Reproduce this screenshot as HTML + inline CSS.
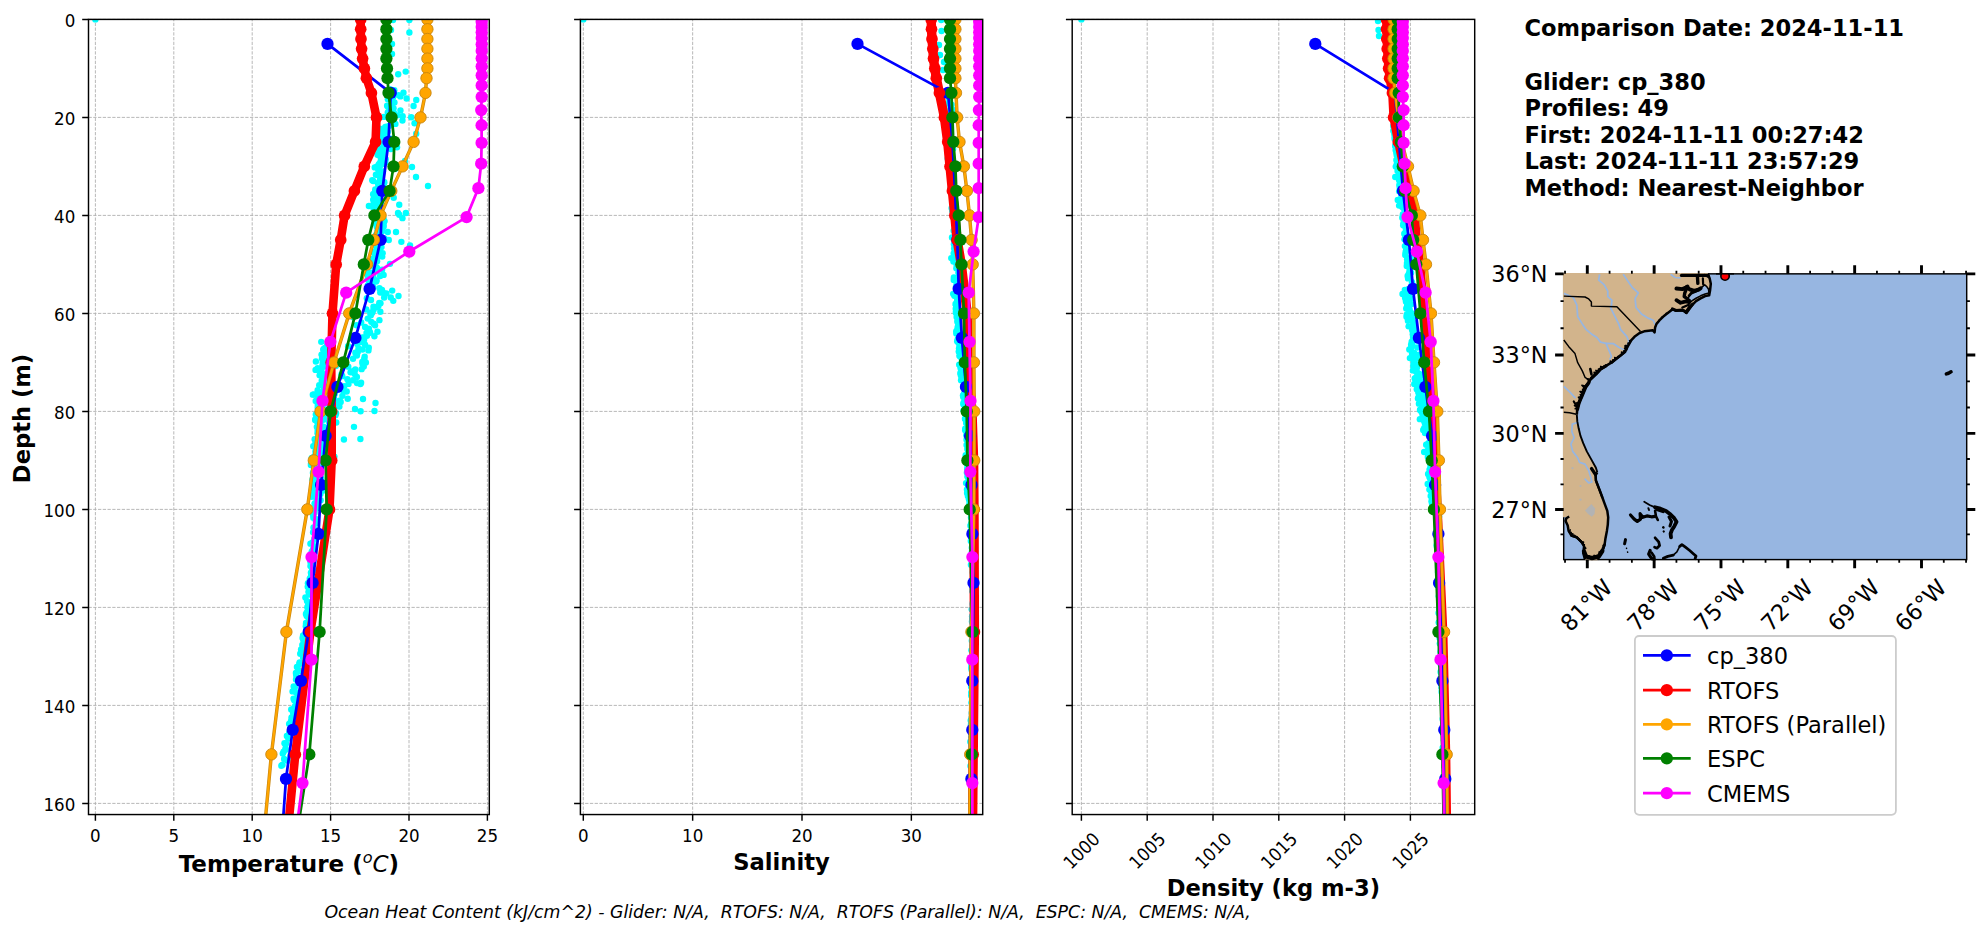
<!DOCTYPE html>
<html lang="en"><head><meta charset="utf-8"><title>Glider / model comparison cp_380 2024-11-11</title>
<style>html,body{margin:0;padding:0;background:#fff}svg{display:block}text{font-family:'DejaVu Sans','Liberation Sans',sans-serif;fill:#000}</style></head><body>
<svg width="1978" height="934" viewBox="0 0 1978 934">
<rect width="1978" height="934" fill="#fff"/>
<clipPath id="c1"><rect x="88.5" y="19.4" width="400.8" height="795.15"/></clipPath>
<path d="M95.4 814.55V19.4M173.8 814.55V19.4M252.2 814.55V19.4M330.6 814.55V19.4M409 814.55V19.4M487.4 814.55V19.4M88.5 19.4H489.3M88.5 117.4H489.3M88.5 215.4H489.3M88.5 313.4H489.3M88.5 411.4H489.3M88.5 509.4H489.3M88.5 607.4H489.3M88.5 705.4H489.3M88.5 803.4H489.3" stroke="#b0b0b0" stroke-width="0.9" stroke-dasharray="3.3 1.45" fill="none"/>
<g clip-path="url(#c1)">
<g fill="#00ffff"><circle cx="95.4" cy="19.4" r="3.2"/><circle cx="409.4" cy="20" r="3.2"/><circle cx="409.4" cy="32.5" r="3.2"/><circle cx="393" cy="20" r="3.2"/><circle cx="392" cy="44" r="3.2"/><circle cx="392" cy="54" r="3.2"/><circle cx="391" cy="30" r="3.2"/><circle cx="398.2" cy="74.3" r="3.2"/><circle cx="405.7" cy="71.6" r="3.2"/><circle cx="390.42" cy="89.42" r="3.2"/><circle cx="394.26" cy="90.13" r="3.2"/><circle cx="403.49" cy="92.74" r="3.2"/><circle cx="393.67" cy="93.68" r="3.2"/><circle cx="400.35" cy="96.42" r="3.2"/><circle cx="398.52" cy="95.1" r="3.2"/><circle cx="393.01" cy="97.3" r="3.2"/><circle cx="406.63" cy="98.56" r="3.2"/><circle cx="416.27" cy="99.94" r="3.2"/><circle cx="387.87" cy="99.2" r="3.2"/><circle cx="394.42" cy="102.53" r="3.2"/><circle cx="392.5" cy="102.91" r="3.2"/><circle cx="387.11" cy="105.63" r="3.2"/><circle cx="413.58" cy="106.05" r="3.2"/><circle cx="388.29" cy="107.09" r="3.2"/><circle cx="393.53" cy="108.22" r="3.2"/><circle cx="400.44" cy="110.45" r="3.2"/><circle cx="391.03" cy="110.23" r="3.2"/><circle cx="393.9" cy="112.73" r="3.2"/><circle cx="387.76" cy="112.39" r="3.2"/><circle cx="397.15" cy="115.34" r="3.2"/><circle cx="402.64" cy="116.13" r="3.2"/><circle cx="383.72" cy="116.88" r="3.2"/><circle cx="411.24" cy="117.31" r="3.2"/><circle cx="402.44" cy="120.49" r="3.2"/><circle cx="393.08" cy="120.74" r="3.2"/><circle cx="414.56" cy="123.22" r="3.2"/><circle cx="392.36" cy="123.17" r="3.2"/><circle cx="389.35" cy="125.67" r="3.2"/><circle cx="395.37" cy="123.91" r="3.2"/><circle cx="385.13" cy="127.16" r="3.2"/><circle cx="386.11" cy="126.63" r="3.2"/><circle cx="387.29" cy="127.36" r="3.2"/><circle cx="384.13" cy="130.11" r="3.2"/><circle cx="379.91" cy="128.58" r="3.2"/><circle cx="383.65" cy="130.32" r="3.2"/><circle cx="387.72" cy="131.86" r="3.2"/><circle cx="380.14" cy="132.42" r="3.2"/><circle cx="384.98" cy="131.29" r="3.2"/><circle cx="384.26" cy="133.48" r="3.2"/><circle cx="385.55" cy="134.22" r="3.2"/><circle cx="416.21" cy="133.71" r="3.2"/><circle cx="380.78" cy="136.63" r="3.2"/><circle cx="382.71" cy="138.18" r="3.2"/><circle cx="384.88" cy="136.96" r="3.2"/><circle cx="384.81" cy="138.89" r="3.2"/><circle cx="384.33" cy="138.64" r="3.2"/><circle cx="390.9" cy="138.6" r="3.2"/><circle cx="384.57" cy="140.76" r="3.2"/><circle cx="375.32" cy="142.37" r="3.2"/><circle cx="382.04" cy="141.58" r="3.2"/><circle cx="385.76" cy="145.02" r="3.2"/><circle cx="387.66" cy="143.69" r="3.2"/><circle cx="386.47" cy="145.08" r="3.2"/><circle cx="374.83" cy="147.38" r="3.2"/><circle cx="383.41" cy="145.67" r="3.2"/><circle cx="397.01" cy="147.26" r="3.2"/><circle cx="384.85" cy="149.12" r="3.2"/><circle cx="390.81" cy="148.93" r="3.2"/><circle cx="379.13" cy="148.59" r="3.2"/><circle cx="382.93" cy="152.66" r="3.2"/><circle cx="384.18" cy="151.65" r="3.2"/><circle cx="379.18" cy="152.09" r="3.2"/><circle cx="377.54" cy="154.83" r="3.2"/><circle cx="381.95" cy="154.84" r="3.2"/><circle cx="378.53" cy="154.87" r="3.2"/><circle cx="384.6" cy="157.67" r="3.2"/><circle cx="381.11" cy="155.81" r="3.2"/><circle cx="382.84" cy="157.34" r="3.2"/><circle cx="382.56" cy="159.83" r="3.2"/><circle cx="385.69" cy="159.17" r="3.2"/><circle cx="380.79" cy="157.88" r="3.2"/><circle cx="385.29" cy="162.54" r="3.2"/><circle cx="380.23" cy="162.39" r="3.2"/><circle cx="381.97" cy="161" r="3.2"/><circle cx="378.88" cy="164.16" r="3.2"/><circle cx="380.53" cy="164.93" r="3.2"/><circle cx="383.83" cy="163.85" r="3.2"/><circle cx="374.77" cy="167.4" r="3.2"/><circle cx="377.15" cy="166.48" r="3.2"/><circle cx="379.82" cy="165.64" r="3.2"/><circle cx="395.2" cy="168.79" r="3.2"/><circle cx="378.33" cy="168.99" r="3.2"/><circle cx="378.42" cy="169.53" r="3.2"/><circle cx="383" cy="171.44" r="3.2"/><circle cx="379.8" cy="171.32" r="3.2"/><circle cx="382.2" cy="171.92" r="3.2"/><circle cx="382.24" cy="173.76" r="3.2"/><circle cx="377.77" cy="174.21" r="3.2"/><circle cx="375.93" cy="174.81" r="3.2"/><circle cx="380.25" cy="177.1" r="3.2"/><circle cx="381.33" cy="177.26" r="3.2"/><circle cx="378.33" cy="175.33" r="3.2"/><circle cx="381.19" cy="178.03" r="3.2"/><circle cx="381.09" cy="179.06" r="3.2"/><circle cx="380.2" cy="179.17" r="3.2"/><circle cx="372.29" cy="180.24" r="3.2"/><circle cx="384.36" cy="182.19" r="3.2"/><circle cx="373.27" cy="181.07" r="3.2"/><circle cx="383.89" cy="183.39" r="3.2"/><circle cx="377.87" cy="183.16" r="3.2"/><circle cx="379.11" cy="182.4" r="3.2"/><circle cx="380.4" cy="185.86" r="3.2"/><circle cx="380.6" cy="186.03" r="3.2"/><circle cx="378.23" cy="187.16" r="3.2"/><circle cx="379.52" cy="187.89" r="3.2"/><circle cx="391.78" cy="187.56" r="3.2"/><circle cx="375.27" cy="189.44" r="3.2"/><circle cx="378.27" cy="191.91" r="3.2"/><circle cx="375.19" cy="191.38" r="3.2"/><circle cx="378.17" cy="190.72" r="3.2"/><circle cx="377.77" cy="194.4" r="3.2"/><circle cx="373.63" cy="194.2" r="3.2"/><circle cx="373.18" cy="194.22" r="3.2"/><circle cx="374.51" cy="196.82" r="3.2"/><circle cx="377.91" cy="194.91" r="3.2"/><circle cx="374.95" cy="194.99" r="3.2"/><circle cx="393.72" cy="197.78" r="3.2"/><circle cx="379.52" cy="197.75" r="3.2"/><circle cx="375.17" cy="197.09" r="3.2"/><circle cx="376.96" cy="199.54" r="3.2"/><circle cx="376.56" cy="200.64" r="3.2"/><circle cx="373.18" cy="199.76" r="3.2"/><circle cx="378.21" cy="203.95" r="3.2"/><circle cx="373.98" cy="203.17" r="3.2"/><circle cx="373.62" cy="203.95" r="3.2"/><circle cx="368.9" cy="205.93" r="3.2"/><circle cx="399.25" cy="204.71" r="3.2"/><circle cx="381.24" cy="204.79" r="3.2"/><circle cx="378.82" cy="208.87" r="3.2"/><circle cx="379.78" cy="207.43" r="3.2"/><circle cx="373.46" cy="207.95" r="3.2"/><circle cx="378.41" cy="211.61" r="3.2"/><circle cx="379.34" cy="210.61" r="3.2"/><circle cx="376.89" cy="210.16" r="3.2"/><circle cx="405.9" cy="212.96" r="3.2"/><circle cx="378.84" cy="212.96" r="3.2"/><circle cx="378.88" cy="212.71" r="3.2"/><circle cx="399.26" cy="214.76" r="3.2"/><circle cx="381.87" cy="215.47" r="3.2"/><circle cx="381.47" cy="216.31" r="3.2"/><circle cx="376.24" cy="217.43" r="3.2"/><circle cx="383.35" cy="218.19" r="3.2"/><circle cx="402.45" cy="218.16" r="3.2"/><circle cx="374.93" cy="221.05" r="3.2"/><circle cx="384.01" cy="221.1" r="3.2"/><circle cx="384.55" cy="221.08" r="3.2"/><circle cx="374.81" cy="223.21" r="3.2"/><circle cx="377.47" cy="221.62" r="3.2"/><circle cx="383.41" cy="223.56" r="3.2"/><circle cx="383.57" cy="225.51" r="3.2"/><circle cx="377.4" cy="224.01" r="3.2"/><circle cx="377.34" cy="225.8" r="3.2"/><circle cx="376.69" cy="226.61" r="3.2"/><circle cx="380.94" cy="227.06" r="3.2"/><circle cx="383.48" cy="226.94" r="3.2"/><circle cx="382.18" cy="231.24" r="3.2"/><circle cx="377.51" cy="230.54" r="3.2"/><circle cx="381.07" cy="230.38" r="3.2"/><circle cx="379.98" cy="231.96" r="3.2"/><circle cx="379.76" cy="232.08" r="3.2"/><circle cx="387.77" cy="232" r="3.2"/><circle cx="378.24" cy="234.5" r="3.2"/><circle cx="376.03" cy="234.92" r="3.2"/><circle cx="379.05" cy="234.28" r="3.2"/><circle cx="381.05" cy="238.5" r="3.2"/><circle cx="384.54" cy="238.57" r="3.2"/><circle cx="381.11" cy="236.89" r="3.2"/><circle cx="382.71" cy="240.1" r="3.2"/><circle cx="388.78" cy="239.96" r="3.2"/><circle cx="382.39" cy="239.92" r="3.2"/><circle cx="379.5" cy="242.84" r="3.2"/><circle cx="380.92" cy="241.21" r="3.2"/><circle cx="401.36" cy="241.87" r="3.2"/><circle cx="379.7" cy="244.43" r="3.2"/><circle cx="410.04" cy="245.4" r="3.2"/><circle cx="380.44" cy="245.31" r="3.2"/><circle cx="377.45" cy="246.75" r="3.2"/><circle cx="376.52" cy="247.46" r="3.2"/><circle cx="381.47" cy="247.08" r="3.2"/><circle cx="378.23" cy="250.5" r="3.2"/><circle cx="379.49" cy="250.75" r="3.2"/><circle cx="378.41" cy="248.96" r="3.2"/><circle cx="380.6" cy="253.24" r="3.2"/><circle cx="382.63" cy="253.14" r="3.2"/><circle cx="373.6" cy="252.27" r="3.2"/><circle cx="377.09" cy="254.48" r="3.2"/><circle cx="376.21" cy="254.95" r="3.2"/><circle cx="377.05" cy="253.71" r="3.2"/><circle cx="377.83" cy="256.67" r="3.2"/><circle cx="375.05" cy="256.47" r="3.2"/><circle cx="382.23" cy="256.57" r="3.2"/><circle cx="372.92" cy="258.69" r="3.2"/><circle cx="374.96" cy="260.47" r="3.2"/><circle cx="373.73" cy="260.69" r="3.2"/><circle cx="375.7" cy="261.09" r="3.2"/><circle cx="376.19" cy="260.97" r="3.2"/><circle cx="377.08" cy="261.37" r="3.2"/><circle cx="368.48" cy="264.19" r="3.2"/><circle cx="372" cy="264.46" r="3.2"/><circle cx="389.99" cy="263.87" r="3.2"/><circle cx="376.33" cy="267.16" r="3.2"/><circle cx="374.18" cy="266.17" r="3.2"/><circle cx="374.2" cy="266.72" r="3.2"/><circle cx="376.62" cy="270.14" r="3.2"/><circle cx="382.11" cy="269.8" r="3.2"/><circle cx="377.14" cy="268.1" r="3.2"/><circle cx="371.03" cy="272.77" r="3.2"/><circle cx="376.6" cy="271.15" r="3.2"/><circle cx="367.33" cy="270.92" r="3.2"/><circle cx="367.65" cy="274.73" r="3.2"/><circle cx="372.16" cy="274.84" r="3.2"/><circle cx="383.6" cy="274.88" r="3.2"/><circle cx="373.21" cy="276.18" r="3.2"/><circle cx="380.17" cy="276.05" r="3.2"/><circle cx="368.8" cy="275.62" r="3.2"/><circle cx="367.71" cy="279.3" r="3.2"/><circle cx="369.9" cy="277.93" r="3.2"/><circle cx="373.41" cy="279.01" r="3.2"/><circle cx="376.12" cy="281.49" r="3.2"/><circle cx="369.97" cy="280.94" r="3.2"/><circle cx="376.55" cy="280.4" r="3.2"/><circle cx="369.36" cy="284.42" r="3.2"/><circle cx="368.33" cy="285.02" r="3.2"/><circle cx="372" cy="282.88" r="3.2"/><circle cx="368.23" cy="285.73" r="3.2"/><circle cx="373.26" cy="287.02" r="3.2"/><circle cx="367.78" cy="286" r="3.2"/><circle cx="379.43" cy="288.25" r="3.2"/><circle cx="382.01" cy="289.98" r="3.2"/><circle cx="392.2" cy="290.6" r="3.2"/><circle cx="380.28" cy="292.43" r="3.2"/><circle cx="386.37" cy="293.54" r="3.2"/><circle cx="383.17" cy="292.72" r="3.2"/><circle cx="398.51" cy="295.99" r="3.2"/><circle cx="390.78" cy="297.44" r="3.2"/><circle cx="366.85" cy="298.29" r="3.2"/><circle cx="384.15" cy="297.58" r="3.2"/><circle cx="393.28" cy="300.86" r="3.2"/><circle cx="371.01" cy="299.96" r="3.2"/><circle cx="380.45" cy="303.24" r="3.2"/><circle cx="379.29" cy="302.9" r="3.2"/><circle cx="373.5" cy="306.82" r="3.2"/><circle cx="378.35" cy="305.99" r="3.2"/><circle cx="366.26" cy="309.51" r="3.2"/><circle cx="376.59" cy="307.37" r="3.2"/><circle cx="380.34" cy="311.7" r="3.2"/><circle cx="373.45" cy="309.9" r="3.2"/><circle cx="370.21" cy="312.82" r="3.2"/><circle cx="372.21" cy="312.85" r="3.2"/><circle cx="354.68" cy="316.13" r="3.2"/><circle cx="370.82" cy="315.31" r="3.2"/><circle cx="367.71" cy="318.62" r="3.2"/><circle cx="353.27" cy="317.16" r="3.2"/><circle cx="371.29" cy="321.84" r="3.2"/><circle cx="379.41" cy="320.15" r="3.2"/><circle cx="361.22" cy="322.44" r="3.2"/><circle cx="373.64" cy="323.77" r="3.2"/><circle cx="375.03" cy="325.24" r="3.2"/><circle cx="356.59" cy="325.32" r="3.2"/><circle cx="368.89" cy="328.71" r="3.2"/><circle cx="365.06" cy="327.06" r="3.2"/><circle cx="377.45" cy="331.7" r="3.2"/><circle cx="369.67" cy="331.72" r="3.2"/><circle cx="366.51" cy="333" r="3.2"/><circle cx="370.16" cy="332.87" r="3.2"/><circle cx="366.93" cy="335.87" r="3.2"/><circle cx="374.38" cy="336.28" r="3.2"/><circle cx="363.32" cy="337.41" r="3.2"/><circle cx="361.91" cy="337.6" r="3.2"/><circle cx="364.1" cy="339.74" r="3.2"/><circle cx="359.18" cy="341.27" r="3.2"/><circle cx="357.33" cy="343.98" r="3.2"/><circle cx="360.24" cy="342.16" r="3.2"/><circle cx="327.83" cy="343.98" r="3.2"/><circle cx="321.25" cy="341.85" r="3.2"/><circle cx="348.09" cy="346.24" r="3.2"/><circle cx="365.04" cy="344.75" r="3.2"/><circle cx="327.38" cy="346.39" r="3.2"/><circle cx="327.27" cy="345.45" r="3.2"/><circle cx="368.79" cy="347.58" r="3.2"/><circle cx="358.52" cy="348.37" r="3.2"/><circle cx="327" cy="347.93" r="3.2"/><circle cx="324.89" cy="347.99" r="3.2"/><circle cx="362.45" cy="349.44" r="3.2"/><circle cx="368.42" cy="350.39" r="3.2"/><circle cx="323.8" cy="348.98" r="3.2"/><circle cx="323.24" cy="349.74" r="3.2"/><circle cx="357.77" cy="351.89" r="3.2"/><circle cx="355.39" cy="352.72" r="3.2"/><circle cx="326.38" cy="352.35" r="3.2"/><circle cx="325.52" cy="352.72" r="3.2"/><circle cx="356.86" cy="355.52" r="3.2"/><circle cx="356.42" cy="354.53" r="3.2"/><circle cx="321.54" cy="354.6" r="3.2"/><circle cx="332.71" cy="355.21" r="3.2"/><circle cx="353.02" cy="358.69" r="3.2"/><circle cx="364.69" cy="356.77" r="3.2"/><circle cx="324.01" cy="356.31" r="3.2"/><circle cx="321.99" cy="358.46" r="3.2"/><circle cx="344.14" cy="360.87" r="3.2"/><circle cx="364.13" cy="359.14" r="3.2"/><circle cx="328.47" cy="360.29" r="3.2"/><circle cx="324.47" cy="360.93" r="3.2"/><circle cx="365.86" cy="362.41" r="3.2"/><circle cx="362.32" cy="361.88" r="3.2"/><circle cx="315.87" cy="361.46" r="3.2"/><circle cx="322.72" cy="362.38" r="3.2"/><circle cx="362.55" cy="363.95" r="3.2"/><circle cx="335.84" cy="365.99" r="3.2"/><circle cx="322.35" cy="365.87" r="3.2"/><circle cx="323.63" cy="364.58" r="3.2"/><circle cx="363.78" cy="366.48" r="3.2"/><circle cx="348.3" cy="366.63" r="3.2"/><circle cx="317.63" cy="368.09" r="3.2"/><circle cx="327.05" cy="366.54" r="3.2"/><circle cx="355.31" cy="369.47" r="3.2"/><circle cx="361.62" cy="369.14" r="3.2"/><circle cx="321.77" cy="368.65" r="3.2"/><circle cx="315.57" cy="369.9" r="3.2"/><circle cx="352.9" cy="371.28" r="3.2"/><circle cx="350.57" cy="372.32" r="3.2"/><circle cx="320.58" cy="372.01" r="3.2"/><circle cx="320.52" cy="372.4" r="3.2"/><circle cx="341.42" cy="374.5" r="3.2"/><circle cx="354.71" cy="374.01" r="3.2"/><circle cx="319.63" cy="375.28" r="3.2"/><circle cx="323.11" cy="373.88" r="3.2"/><circle cx="342.3" cy="376.16" r="3.2"/><circle cx="356.87" cy="376.96" r="3.2"/><circle cx="324.79" cy="377.12" r="3.2"/><circle cx="326.93" cy="376.1" r="3.2"/><circle cx="352.98" cy="380.22" r="3.2"/><circle cx="347.43" cy="379.26" r="3.2"/><circle cx="321.75" cy="380.63" r="3.2"/><circle cx="326.36" cy="380.74" r="3.2"/><circle cx="361.11" cy="382.76" r="3.2"/><circle cx="357.04" cy="383.1" r="3.2"/><circle cx="330.85" cy="383" r="3.2"/><circle cx="324.69" cy="383.03" r="3.2"/><circle cx="360.44" cy="384.09" r="3.2"/><circle cx="348.48" cy="383.91" r="3.2"/><circle cx="319.22" cy="385.21" r="3.2"/><circle cx="323.84" cy="385.46" r="3.2"/><circle cx="340.03" cy="386.33" r="3.2"/><circle cx="344.23" cy="386.14" r="3.2"/><circle cx="325.35" cy="387.33" r="3.2"/><circle cx="327.97" cy="387.85" r="3.2"/><circle cx="339.09" cy="389.42" r="3.2"/><circle cx="342.46" cy="389.01" r="3.2"/><circle cx="323.96" cy="389.54" r="3.2"/><circle cx="317.66" cy="390.27" r="3.2"/><circle cx="346.68" cy="391.55" r="3.2"/><circle cx="343.84" cy="391.24" r="3.2"/><circle cx="325.29" cy="391.46" r="3.2"/><circle cx="320.43" cy="392.44" r="3.2"/><circle cx="330.71" cy="393.17" r="3.2"/><circle cx="334.74" cy="393.66" r="3.2"/><circle cx="314.1" cy="394.46" r="3.2"/><circle cx="312.83" cy="394.64" r="3.2"/><circle cx="342.42" cy="395.86" r="3.2"/><circle cx="329.07" cy="397.65" r="3.2"/><circle cx="317.93" cy="395.82" r="3.2"/><circle cx="321.14" cy="395.55" r="3.2"/><circle cx="347.71" cy="398.81" r="3.2"/><circle cx="334.32" cy="399.35" r="3.2"/><circle cx="318.26" cy="399.45" r="3.2"/><circle cx="319.01" cy="399.09" r="3.2"/><circle cx="339.64" cy="400.76" r="3.2"/><circle cx="340.66" cy="401.93" r="3.2"/><circle cx="324.34" cy="401.36" r="3.2"/><circle cx="315.7" cy="401.03" r="3.2"/><circle cx="338.45" cy="403.69" r="3.2"/><circle cx="331.79" cy="403.92" r="3.2"/><circle cx="325.22" cy="403.45" r="3.2"/><circle cx="317.78" cy="405.02" r="3.2"/><circle cx="336.6" cy="405.87" r="3.2"/><circle cx="339.39" cy="406.62" r="3.2"/><circle cx="319.28" cy="407.56" r="3.2"/><circle cx="321.29" cy="406.76" r="3.2"/><circle cx="332.69" cy="409.29" r="3.2"/><circle cx="331.29" cy="408.47" r="3.2"/><circle cx="317.68" cy="407.87" r="3.2"/><circle cx="324.37" cy="409.47" r="3.2"/><circle cx="360.61" cy="411.32" r="3.2"/><circle cx="322.65" cy="411.29" r="3.2"/><circle cx="319.78" cy="410.76" r="3.2"/><circle cx="321.16" cy="410.29" r="3.2"/><circle cx="324.65" cy="414.68" r="3.2"/><circle cx="336.06" cy="413.29" r="3.2"/><circle cx="315.85" cy="414.54" r="3.2"/><circle cx="318.14" cy="413.91" r="3.2"/><circle cx="327.63" cy="415.62" r="3.2"/><circle cx="335.45" cy="415.14" r="3.2"/><circle cx="319.07" cy="416.89" r="3.2"/><circle cx="321.8" cy="417.37" r="3.2"/><circle cx="327.62" cy="418.34" r="3.2"/><circle cx="323.28" cy="419.73" r="3.2"/><circle cx="315.42" cy="419.15" r="3.2"/><circle cx="315.15" cy="419.9" r="3.2"/><circle cx="317.75" cy="422.06" r="3.2"/><circle cx="328.96" cy="421.74" r="3.2"/><circle cx="316.23" cy="420.51" r="3.2"/><circle cx="317.66" cy="421.49" r="3.2"/><circle cx="336.26" cy="422.51" r="3.2"/><circle cx="331.71" cy="424.68" r="3.2"/><circle cx="317.71" cy="422.52" r="3.2"/><circle cx="320.4" cy="422.55" r="3.2"/><circle cx="323.46" cy="426.67" r="3.2"/><circle cx="353.98" cy="426.86" r="3.2"/><circle cx="316.86" cy="426.87" r="3.2"/><circle cx="319.65" cy="426.98" r="3.2"/><circle cx="324.2" cy="429.62" r="3.2"/><circle cx="328.02" cy="427.43" r="3.2"/><circle cx="319.98" cy="429.38" r="3.2"/><circle cx="320.39" cy="429.33" r="3.2"/><circle cx="318.22" cy="430.49" r="3.2"/><circle cx="326.62" cy="430.29" r="3.2"/><circle cx="319.29" cy="430.57" r="3.2"/><circle cx="317.71" cy="430.42" r="3.2"/><circle cx="324.66" cy="433.97" r="3.2"/><circle cx="321.22" cy="433.46" r="3.2"/><circle cx="320.48" cy="434.29" r="3.2"/><circle cx="317.56" cy="433.24" r="3.2"/><circle cx="322.75" cy="436.56" r="3.2"/><circle cx="319.14" cy="435.22" r="3.2"/><circle cx="322.55" cy="436.77" r="3.2"/><circle cx="323.51" cy="435.11" r="3.2"/><circle cx="343.95" cy="439.5" r="3.2"/><circle cx="360.4" cy="439.06" r="3.2"/><circle cx="318.15" cy="437.59" r="3.2"/><circle cx="314.68" cy="439.15" r="3.2"/><circle cx="323.31" cy="441.87" r="3.2"/><circle cx="322.42" cy="440.8" r="3.2"/><circle cx="320.14" cy="439.86" r="3.2"/><circle cx="316.82" cy="441.49" r="3.2"/><circle cx="321.37" cy="443.94" r="3.2"/><circle cx="319.67" cy="443" r="3.2"/><circle cx="315.26" cy="444.19" r="3.2"/><circle cx="323.9" cy="442.11" r="3.2"/><circle cx="328.1" cy="445.13" r="3.2"/><circle cx="327.5" cy="446.62" r="3.2"/><circle cx="315.07" cy="445.06" r="3.2"/><circle cx="313.29" cy="446.31" r="3.2"/><circle cx="323.97" cy="448.5" r="3.2"/><circle cx="319.9" cy="448.97" r="3.2"/><circle cx="319.86" cy="448.54" r="3.2"/><circle cx="317.22" cy="448" r="3.2"/><circle cx="319.21" cy="450.79" r="3.2"/><circle cx="326.16" cy="449.97" r="3.2"/><circle cx="319.95" cy="449.86" r="3.2"/><circle cx="315.44" cy="451.42" r="3.2"/><circle cx="329.41" cy="452.22" r="3.2"/><circle cx="322.09" cy="452.24" r="3.2"/><circle cx="320.14" cy="452.64" r="3.2"/><circle cx="320.57" cy="453.6" r="3.2"/><circle cx="334.41" cy="456.61" r="3.2"/><circle cx="325.75" cy="456.21" r="3.2"/><circle cx="318.94" cy="456.06" r="3.2"/><circle cx="314.76" cy="455.83" r="3.2"/><circle cx="322.89" cy="457.25" r="3.2"/><circle cx="320.57" cy="458.65" r="3.2"/><circle cx="317.33" cy="458.41" r="3.2"/><circle cx="311.78" cy="457.86" r="3.2"/><circle cx="318.34" cy="460.65" r="3.2"/><circle cx="314.28" cy="460.23" r="3.2"/><circle cx="319.83" cy="460.58" r="3.2"/><circle cx="316.57" cy="459.75" r="3.2"/><circle cx="314.99" cy="463.76" r="3.2"/><circle cx="318.83" cy="463.28" r="3.2"/><circle cx="311.07" cy="463.19" r="3.2"/><circle cx="313.53" cy="463.16" r="3.2"/><circle cx="318.64" cy="465.11" r="3.2"/><circle cx="318.86" cy="464.7" r="3.2"/><circle cx="310.88" cy="465.12" r="3.2"/><circle cx="311.61" cy="465.08" r="3.2"/><circle cx="318.84" cy="468.78" r="3.2"/><circle cx="319.46" cy="467.48" r="3.2"/><circle cx="320.81" cy="467.73" r="3.2"/><circle cx="317.11" cy="467.85" r="3.2"/><circle cx="317.32" cy="470.88" r="3.2"/><circle cx="320.83" cy="470.38" r="3.2"/><circle cx="315.9" cy="473.17" r="3.2"/><circle cx="312.95" cy="472.7" r="3.2"/><circle cx="316.67" cy="476.18" r="3.2"/><circle cx="318.13" cy="475.73" r="3.2"/><circle cx="321.19" cy="478.71" r="3.2"/><circle cx="316.14" cy="477.31" r="3.2"/><circle cx="317.36" cy="479.8" r="3.2"/><circle cx="312.47" cy="479.44" r="3.2"/><circle cx="318.55" cy="483.03" r="3.2"/><circle cx="319.74" cy="483.17" r="3.2"/><circle cx="314.75" cy="484.21" r="3.2"/><circle cx="319.67" cy="485.22" r="3.2"/><circle cx="319.74" cy="487.5" r="3.2"/><circle cx="317.13" cy="487.68" r="3.2"/><circle cx="323.48" cy="490.56" r="3.2"/><circle cx="313.39" cy="488.9" r="3.2"/><circle cx="316.21" cy="491.9" r="3.2"/><circle cx="317.11" cy="491.66" r="3.2"/><circle cx="313.67" cy="493.95" r="3.2"/><circle cx="320.38" cy="494.09" r="3.2"/><circle cx="315.53" cy="497.1" r="3.2"/><circle cx="311.6" cy="496.82" r="3.2"/><circle cx="317.18" cy="500.45" r="3.2"/><circle cx="320.59" cy="500.28" r="3.2"/><circle cx="317.16" cy="502.85" r="3.2"/><circle cx="314.84" cy="503.13" r="3.2"/><circle cx="314.67" cy="503.9" r="3.2"/><circle cx="316.4" cy="505.16" r="3.2"/><circle cx="315.92" cy="506.12" r="3.2"/><circle cx="319.31" cy="507.89" r="3.2"/><circle cx="314.69" cy="510.08" r="3.2"/><circle cx="314.51" cy="512.66" r="3.2"/><circle cx="313.09" cy="514.76" r="3.2"/><circle cx="313.33" cy="517.67" r="3.2"/><circle cx="315.27" cy="518.63" r="3.2"/><circle cx="315.74" cy="520.59" r="3.2"/><circle cx="316.39" cy="523.25" r="3.2"/><circle cx="313.51" cy="527.42" r="3.2"/><circle cx="315.36" cy="529.82" r="3.2"/><circle cx="313.11" cy="532.27" r="3.2"/><circle cx="315.41" cy="533.71" r="3.2"/><circle cx="315.32" cy="536.68" r="3.2"/><circle cx="314.25" cy="539.06" r="3.2"/><circle cx="312.59" cy="542.41" r="3.2"/><circle cx="310.44" cy="543.66" r="3.2"/><circle cx="313.86" cy="546.45" r="3.2"/><circle cx="312.98" cy="549.47" r="3.2"/><circle cx="311.72" cy="551.7" r="3.2"/><circle cx="313.99" cy="553.34" r="3.2"/><circle cx="310.55" cy="555.45" r="3.2"/><circle cx="313" cy="558.17" r="3.2"/><circle cx="310.48" cy="561.99" r="3.2"/><circle cx="311.43" cy="564" r="3.2"/><circle cx="310.48" cy="565.96" r="3.2"/><circle cx="312.09" cy="568.88" r="3.2"/><circle cx="313.06" cy="570.76" r="3.2"/><circle cx="310.92" cy="572.62" r="3.2"/><circle cx="311.02" cy="575.81" r="3.2"/><circle cx="309.73" cy="578.69" r="3.2"/><circle cx="311.25" cy="580.75" r="3.2"/><circle cx="307.92" cy="583.13" r="3.2"/><circle cx="308.44" cy="585.25" r="3.2"/><circle cx="307.71" cy="586.84" r="3.2"/><circle cx="308.7" cy="591.24" r="3.2"/><circle cx="308.72" cy="592.39" r="3.2"/><circle cx="309.36" cy="594.57" r="3.2"/><circle cx="305.41" cy="597.41" r="3.2"/><circle cx="307.03" cy="601.09" r="3.2"/><circle cx="309.08" cy="602.66" r="3.2"/><circle cx="308.13" cy="605.13" r="3.2"/><circle cx="307.35" cy="607.27" r="3.2"/><circle cx="308.53" cy="610.9" r="3.2"/><circle cx="306.9" cy="612.24" r="3.2"/><circle cx="305.93" cy="614.06" r="3.2"/><circle cx="306.76" cy="616.04" r="3.2"/><circle cx="308.6" cy="620.77" r="3.2"/><circle cx="306.05" cy="622.99" r="3.2"/><circle cx="305.99" cy="623.93" r="3.2"/><circle cx="305.81" cy="626.25" r="3.2"/><circle cx="308.02" cy="630.3" r="3.2"/><circle cx="306.06" cy="630.9" r="3.2"/><circle cx="303.08" cy="635.39" r="3.2"/><circle cx="302.61" cy="637.91" r="3.2"/><circle cx="304" cy="639.61" r="3.2"/><circle cx="303.42" cy="640.69" r="3.2"/><circle cx="302.31" cy="645.02" r="3.2"/><circle cx="305.29" cy="645.54" r="3.2"/><circle cx="301.1" cy="649.47" r="3.2"/><circle cx="303.67" cy="652.21" r="3.2"/><circle cx="300.23" cy="653.75" r="3.2"/><circle cx="303.09" cy="657.09" r="3.2"/><circle cx="303.6" cy="658.35" r="3.2"/><circle cx="299.63" cy="662.44" r="3.2"/><circle cx="299.33" cy="664" r="3.2"/><circle cx="296.94" cy="667" r="3.2"/><circle cx="298.32" cy="669.58" r="3.2"/><circle cx="298.22" cy="671.54" r="3.2"/><circle cx="295.92" cy="673.03" r="3.2"/><circle cx="296.24" cy="675.43" r="3.2"/><circle cx="296.01" cy="679.38" r="3.2"/><circle cx="298.5" cy="681.7" r="3.2"/><circle cx="298.3" cy="682.81" r="3.2"/><circle cx="293.69" cy="686.54" r="3.2"/><circle cx="294.84" cy="687.25" r="3.2"/><circle cx="292.59" cy="691.41" r="3.2"/><circle cx="296.24" cy="692.51" r="3.2"/><circle cx="297.55" cy="696.03" r="3.2"/><circle cx="293.53" cy="698.65" r="3.2"/><circle cx="294.42" cy="700.4" r="3.2"/><circle cx="296.24" cy="702.31" r="3.2"/><circle cx="294.87" cy="706.35" r="3.2"/><circle cx="294.39" cy="708.06" r="3.2"/><circle cx="291.24" cy="709.56" r="3.2"/><circle cx="293.15" cy="712.9" r="3.2"/><circle cx="293.94" cy="715.24" r="3.2"/><circle cx="291.56" cy="717.35" r="3.2"/><circle cx="291.25" cy="720.42" r="3.2"/><circle cx="290.66" cy="722.18" r="3.2"/><circle cx="289.12" cy="723.85" r="3.2"/><circle cx="294.38" cy="727.42" r="3.2"/><circle cx="290.22" cy="729.33" r="3.2"/><circle cx="289.17" cy="732.99" r="3.2"/><circle cx="286.87" cy="735.91" r="3.2"/><circle cx="288.18" cy="736.48" r="3.2"/><circle cx="288.3" cy="738.62" r="3.2"/><circle cx="284.5" cy="743.22" r="3.2"/><circle cx="286.05" cy="743.55" r="3.2"/><circle cx="285.54" cy="748.15" r="3.2"/><circle cx="285.59" cy="749.65" r="3.2"/><circle cx="283.64" cy="751.69" r="3.2"/><circle cx="282.75" cy="753.58" r="3.2"/><circle cx="290.35" cy="755.74" r="3.2"/><circle cx="284.12" cy="758.94" r="3.2"/><circle cx="287.69" cy="760.66" r="3.2"/><circle cx="282.52" cy="764.7" r="3.2"/><circle cx="281.36" cy="765.8" r="3.2"/><circle cx="428" cy="186" r="3.2"/><circle cx="416" cy="177" r="3.2"/><circle cx="412" cy="167" r="3.2"/><circle cx="405" cy="161" r="3.2"/><circle cx="398" cy="213" r="3.2"/><circle cx="396" cy="232" r="3.2"/><circle cx="375.5" cy="403" r="3.2"/><circle cx="374.5" cy="411" r="3.2"/><circle cx="363" cy="399" r="3.2"/><circle cx="355" cy="409" r="3.2"/></g>
<polyline fill="none" stroke="#ff0000" stroke-width="8.6" stroke-linejoin="round"  points="360.7,19.4 360.7,29.2 361,39 361.6,48.8 362.6,58.6 364.4,68.4 366.4,78.2 371.4,92.9 376.5,117.4 375.6,141.9 364.3,166.4 354.4,190.9 344.6,215.4 340.7,239.9 336.2,264.4 332.5,313.4 331.2,362.4 331.7,411.4 331.7,460.4 329.5,509.4 310.4,631.9 295.3,754.4 271.3,999.4"/>
<polyline fill="none" stroke="#0000ff" stroke-width="2.75" stroke-linejoin="round"  points="327.5,43.9 390.7,92.9 388.5,141.9 382.3,190.9 380.6,239.9 369.6,288.9 355.4,337.9 337.4,386.9 325.6,435.9 321.1,484.9 318.5,533.9 312.6,582.9 308.7,631.9 301,680.9 292.7,729.9 286,778.9 282.5,827.9"/><circle cx="327.5" cy="43.9" r="6.15" fill="#0000ff"/><circle cx="390.7" cy="92.9" r="6.15" fill="#0000ff"/><circle cx="388.5" cy="141.9" r="6.15" fill="#0000ff"/><circle cx="382.3" cy="190.9" r="6.15" fill="#0000ff"/><circle cx="380.6" cy="239.9" r="6.15" fill="#0000ff"/><circle cx="369.6" cy="288.9" r="6.15" fill="#0000ff"/><circle cx="355.4" cy="337.9" r="6.15" fill="#0000ff"/><circle cx="337.4" cy="386.9" r="6.15" fill="#0000ff"/><circle cx="325.6" cy="435.9" r="6.15" fill="#0000ff"/><circle cx="321.1" cy="484.9" r="6.15" fill="#0000ff"/><circle cx="318.5" cy="533.9" r="6.15" fill="#0000ff"/><circle cx="312.6" cy="582.9" r="6.15" fill="#0000ff"/><circle cx="308.7" cy="631.9" r="6.15" fill="#0000ff"/><circle cx="301" cy="680.9" r="6.15" fill="#0000ff"/><circle cx="292.7" cy="729.9" r="6.15" fill="#0000ff"/><circle cx="286" cy="778.9" r="6.15" fill="#0000ff"/>
<circle cx="360.7" cy="19.4" r="5.85" fill="#ff0000"/><circle cx="360.7" cy="29.2" r="5.85" fill="#ff0000"/><circle cx="361" cy="39" r="5.85" fill="#ff0000"/><circle cx="361.6" cy="48.8" r="5.85" fill="#ff0000"/><circle cx="362.6" cy="58.6" r="5.85" fill="#ff0000"/><circle cx="364.4" cy="68.4" r="5.85" fill="#ff0000"/><circle cx="366.4" cy="78.2" r="5.85" fill="#ff0000"/><circle cx="371.4" cy="92.9" r="5.85" fill="#ff0000"/><circle cx="376.5" cy="117.4" r="5.85" fill="#ff0000"/><circle cx="375.6" cy="141.9" r="5.85" fill="#ff0000"/><circle cx="364.3" cy="166.4" r="5.85" fill="#ff0000"/><circle cx="354.4" cy="190.9" r="5.85" fill="#ff0000"/><circle cx="344.6" cy="215.4" r="5.85" fill="#ff0000"/><circle cx="340.7" cy="239.9" r="5.85" fill="#ff0000"/><circle cx="336.2" cy="264.4" r="5.85" fill="#ff0000"/><circle cx="332.5" cy="313.4" r="5.85" fill="#ff0000"/><circle cx="331.2" cy="362.4" r="5.85" fill="#ff0000"/><circle cx="331.7" cy="411.4" r="5.85" fill="#ff0000"/><circle cx="331.7" cy="460.4" r="5.85" fill="#ff0000"/><circle cx="329.5" cy="509.4" r="5.85" fill="#ff0000"/><circle cx="310.4" cy="631.9" r="5.85" fill="#ff0000"/><circle cx="295.3" cy="754.4" r="5.85" fill="#ff0000"/>
<polyline fill="none" stroke="#c8860f" stroke-width="3.45" stroke-linejoin="round"  points="427.4,19.4 427.4,29.2 427.4,39 427.4,48.8 427.4,58.6 427.4,68.4 426.5,78.2 425.5,92.9 420.5,117.4 413.6,141.9 402.5,166.4 391.3,190.9 380.6,215.4 373.9,239.9 367.1,264.4 349.2,313.4 334,362.4 320.5,411.4 313.8,460.4 307.3,509.4 286.4,631.9 271.4,754.4 248.6,999.4"/><polyline fill="none" stroke="#ffa500" stroke-width="2.15" stroke-linejoin="round"  points="427.4,19.4 427.4,29.2 427.4,39 427.4,48.8 427.4,58.6 427.4,68.4 426.5,78.2 425.5,92.9 420.5,117.4 413.6,141.9 402.5,166.4 391.3,190.9 380.6,215.4 373.9,239.9 367.1,264.4 349.2,313.4 334,362.4 320.5,411.4 313.8,460.4 307.3,509.4 286.4,631.9 271.4,754.4 248.6,999.4"/><circle cx="427.4" cy="19.4" r="5.7" fill="#ffa500" stroke="#c8860f" stroke-width="0.9"/><circle cx="427.4" cy="29.2" r="5.7" fill="#ffa500" stroke="#c8860f" stroke-width="0.9"/><circle cx="427.4" cy="39" r="5.7" fill="#ffa500" stroke="#c8860f" stroke-width="0.9"/><circle cx="427.4" cy="48.8" r="5.7" fill="#ffa500" stroke="#c8860f" stroke-width="0.9"/><circle cx="427.4" cy="58.6" r="5.7" fill="#ffa500" stroke="#c8860f" stroke-width="0.9"/><circle cx="427.4" cy="68.4" r="5.7" fill="#ffa500" stroke="#c8860f" stroke-width="0.9"/><circle cx="426.5" cy="78.2" r="5.7" fill="#ffa500" stroke="#c8860f" stroke-width="0.9"/><circle cx="425.5" cy="92.9" r="5.7" fill="#ffa500" stroke="#c8860f" stroke-width="0.9"/><circle cx="420.5" cy="117.4" r="5.7" fill="#ffa500" stroke="#c8860f" stroke-width="0.9"/><circle cx="413.6" cy="141.9" r="5.7" fill="#ffa500" stroke="#c8860f" stroke-width="0.9"/><circle cx="402.5" cy="166.4" r="5.7" fill="#ffa500" stroke="#c8860f" stroke-width="0.9"/><circle cx="391.3" cy="190.9" r="5.7" fill="#ffa500" stroke="#c8860f" stroke-width="0.9"/><circle cx="380.6" cy="215.4" r="5.7" fill="#ffa500" stroke="#c8860f" stroke-width="0.9"/><circle cx="373.9" cy="239.9" r="5.7" fill="#ffa500" stroke="#c8860f" stroke-width="0.9"/><circle cx="367.1" cy="264.4" r="5.7" fill="#ffa500" stroke="#c8860f" stroke-width="0.9"/><circle cx="349.2" cy="313.4" r="5.7" fill="#ffa500" stroke="#c8860f" stroke-width="0.9"/><circle cx="334" cy="362.4" r="5.7" fill="#ffa500" stroke="#c8860f" stroke-width="0.9"/><circle cx="320.5" cy="411.4" r="5.7" fill="#ffa500" stroke="#c8860f" stroke-width="0.9"/><circle cx="313.8" cy="460.4" r="5.7" fill="#ffa500" stroke="#c8860f" stroke-width="0.9"/><circle cx="307.3" cy="509.4" r="5.7" fill="#ffa500" stroke="#c8860f" stroke-width="0.9"/><circle cx="286.4" cy="631.9" r="5.7" fill="#ffa500" stroke="#c8860f" stroke-width="0.9"/><circle cx="271.4" cy="754.4" r="5.7" fill="#ffa500" stroke="#c8860f" stroke-width="0.9"/>
<polyline fill="none" stroke="#008000" stroke-width="2.75" stroke-linejoin="round"  points="386.4,19.4 386.4,29.2 386.4,39 386.4,48.8 386.4,58.6 387,68.4 387.5,78.2 388.5,92.9 391.6,117.4 394.3,141.9 393.5,166.4 389.6,190.9 374.4,215.4 368.3,239.9 363.8,264.4 355.4,313.4 343.3,362.4 330.6,411.4 325.6,460.4 326.7,509.4 319.6,631.9 309.3,754.4 271.5,999.4"/><circle cx="386.4" cy="19.4" r="6.15" fill="#008000"/><circle cx="386.4" cy="29.2" r="6.15" fill="#008000"/><circle cx="386.4" cy="39" r="6.15" fill="#008000"/><circle cx="386.4" cy="48.8" r="6.15" fill="#008000"/><circle cx="386.4" cy="58.6" r="6.15" fill="#008000"/><circle cx="387" cy="68.4" r="6.15" fill="#008000"/><circle cx="387.5" cy="78.2" r="6.15" fill="#008000"/><circle cx="388.5" cy="92.9" r="6.15" fill="#008000"/><circle cx="391.6" cy="117.4" r="6.15" fill="#008000"/><circle cx="394.3" cy="141.9" r="6.15" fill="#008000"/><circle cx="393.5" cy="166.4" r="6.15" fill="#008000"/><circle cx="389.6" cy="190.9" r="6.15" fill="#008000"/><circle cx="374.4" cy="215.4" r="6.15" fill="#008000"/><circle cx="368.3" cy="239.9" r="6.15" fill="#008000"/><circle cx="363.8" cy="264.4" r="6.15" fill="#008000"/><circle cx="355.4" cy="313.4" r="6.15" fill="#008000"/><circle cx="343.3" cy="362.4" r="6.15" fill="#008000"/><circle cx="330.6" cy="411.4" r="6.15" fill="#008000"/><circle cx="325.6" cy="460.4" r="6.15" fill="#008000"/><circle cx="326.7" cy="509.4" r="6.15" fill="#008000"/><circle cx="319.6" cy="631.9" r="6.15" fill="#008000"/><circle cx="309.3" cy="754.4" r="6.15" fill="#008000"/>
<polyline fill="none" stroke="#ff00ff" stroke-width="2.75" stroke-linejoin="round"  points="481.7,21.82 481.7,26.95 481.7,32.37 481.7,38.11 481.7,44.28 481.7,50.96 481.7,58.26 481.7,66.31 481.7,75.28 481.7,85.39 481.7,96.87 481.2,110.03 481.6,125.24 481.6,142.93 481.2,163.68 478.4,188.13 466.6,217.09 409.3,251.53 346.2,292.64 330.4,341.85 322.5,400.88 318.5,471.8 311.5,557.07 311.5,659.66 302.5,783.07 283,931.42"/><circle cx="481.7" cy="21.82" r="6.15" fill="#ff00ff"/><circle cx="481.7" cy="26.95" r="6.15" fill="#ff00ff"/><circle cx="481.7" cy="32.37" r="6.15" fill="#ff00ff"/><circle cx="481.7" cy="38.11" r="6.15" fill="#ff00ff"/><circle cx="481.7" cy="44.28" r="6.15" fill="#ff00ff"/><circle cx="481.7" cy="50.96" r="6.15" fill="#ff00ff"/><circle cx="481.7" cy="58.26" r="6.15" fill="#ff00ff"/><circle cx="481.7" cy="66.31" r="6.15" fill="#ff00ff"/><circle cx="481.7" cy="75.28" r="6.15" fill="#ff00ff"/><circle cx="481.7" cy="85.39" r="6.15" fill="#ff00ff"/><circle cx="481.7" cy="96.87" r="6.15" fill="#ff00ff"/><circle cx="481.2" cy="110.03" r="6.15" fill="#ff00ff"/><circle cx="481.6" cy="125.24" r="6.15" fill="#ff00ff"/><circle cx="481.6" cy="142.93" r="6.15" fill="#ff00ff"/><circle cx="481.2" cy="163.68" r="6.15" fill="#ff00ff"/><circle cx="478.4" cy="188.13" r="6.15" fill="#ff00ff"/><circle cx="466.6" cy="217.09" r="6.15" fill="#ff00ff"/><circle cx="409.3" cy="251.53" r="6.15" fill="#ff00ff"/><circle cx="346.2" cy="292.64" r="6.15" fill="#ff00ff"/><circle cx="330.4" cy="341.85" r="6.15" fill="#ff00ff"/><circle cx="322.5" cy="400.88" r="6.15" fill="#ff00ff"/><circle cx="318.5" cy="471.8" r="6.15" fill="#ff00ff"/><circle cx="311.5" cy="557.07" r="6.15" fill="#ff00ff"/><circle cx="311.5" cy="659.66" r="6.15" fill="#ff00ff"/><circle cx="302.5" cy="783.07" r="6.15" fill="#ff00ff"/>
</g>
<path d="M95.4 814.55v6.3M173.8 814.55v6.3M252.2 814.55v6.3M330.6 814.55v6.3M409 814.55v6.3M487.4 814.55v6.3M88.5 19.4h-6.3M88.5 117.4h-6.3M88.5 215.4h-6.3M88.5 313.4h-6.3M88.5 411.4h-6.3M88.5 509.4h-6.3M88.5 607.4h-6.3M88.5 705.4h-6.3M88.5 803.4h-6.3" stroke="#000" stroke-width="1.45" fill="none"/>
<rect x="88.5" y="19.4" width="400.8" height="795.15" fill="none" stroke="#000" stroke-width="1.45"/>
<text transform="translate(75.3 26.65) scale(0.925 1)" font-size="18.06" text-anchor="end">0</text>
<text transform="translate(75.3 124.65) scale(0.925 1)" font-size="18.06" text-anchor="end">20</text>
<text transform="translate(75.3 222.65) scale(0.925 1)" font-size="18.06" text-anchor="end">40</text>
<text transform="translate(75.3 320.65) scale(0.925 1)" font-size="18.06" text-anchor="end">60</text>
<text transform="translate(75.3 418.65) scale(0.925 1)" font-size="18.06" text-anchor="end">80</text>
<text transform="translate(75.3 516.65) scale(0.925 1)" font-size="18.06" text-anchor="end">100</text>
<text transform="translate(75.3 614.65) scale(0.925 1)" font-size="18.06" text-anchor="end">120</text>
<text transform="translate(75.3 712.65) scale(0.925 1)" font-size="18.06" text-anchor="end">140</text>
<text transform="translate(75.3 810.65) scale(0.925 1)" font-size="18.06" text-anchor="end">160</text>
<text transform="translate(95.4 842.1) scale(0.925 1)" font-size="18.06" text-anchor="middle">0</text>
<text transform="translate(173.8 842.1) scale(0.925 1)" font-size="18.06" text-anchor="middle">5</text>
<text transform="translate(252.2 842.1) scale(0.925 1)" font-size="18.06" text-anchor="middle">10</text>
<text transform="translate(330.6 842.1) scale(0.925 1)" font-size="18.06" text-anchor="middle">15</text>
<text transform="translate(409 842.1) scale(0.925 1)" font-size="18.06" text-anchor="middle">20</text>
<text transform="translate(487.4 842.1) scale(0.925 1)" font-size="18.06" text-anchor="middle">25</text>
<text transform="translate(288.9 871.7)" font-size="23" text-anchor="middle" font-weight="bold">Temperature (<tspan font-style="italic" font-weight="normal" font-size="16.1" dy="-8.4">o</tspan><tspan font-style="italic" font-weight="normal" dy="8.4">C</tspan>)</text>
<text transform="translate(29.9 418.5) rotate(-90) scale(0.984 1)" font-size="23" text-anchor="middle" font-weight="bold">Depth (m)</text>
<clipPath id="c2"><rect x="580.4" y="19.4" width="402.3" height="795.15"/></clipPath>
<path d="M583.3 814.55V19.4M692.65 814.55V19.4M802 814.55V19.4M911.35 814.55V19.4M580.4 19.4H982.7M580.4 117.4H982.7M580.4 215.4H982.7M580.4 313.4H982.7M580.4 411.4H982.7M580.4 509.4H982.7M580.4 607.4H982.7M580.4 705.4H982.7M580.4 803.4H982.7" stroke="#b0b0b0" stroke-width="0.9" stroke-dasharray="3.3 1.45" fill="none"/>
<g clip-path="url(#c2)">
<g fill="#00ffff"><circle cx="583.3" cy="19.4" r="3.2"/><circle cx="948.68" cy="96.53" r="3.2"/><circle cx="949.9" cy="99" r="3.2"/><circle cx="949.32" cy="99.74" r="3.2"/><circle cx="948.57" cy="103.65" r="3.2"/><circle cx="951.54" cy="104.65" r="3.2"/><circle cx="950.26" cy="108.75" r="3.2"/><circle cx="952.46" cy="109.67" r="3.2"/><circle cx="950.09" cy="111.64" r="3.2"/><circle cx="953.05" cy="115.01" r="3.2"/><circle cx="950.29" cy="116.65" r="3.2"/><circle cx="944.74" cy="119.17" r="3.2"/><circle cx="949.6" cy="122.47" r="3.2"/><circle cx="949.08" cy="125.4" r="3.2"/><circle cx="949.42" cy="127.71" r="3.2"/><circle cx="949.09" cy="128.66" r="3.2"/><circle cx="949.71" cy="132.36" r="3.2"/><circle cx="948.05" cy="133.84" r="3.2"/><circle cx="949.59" cy="137.27" r="3.2"/><circle cx="949.01" cy="139.65" r="3.2"/><circle cx="947.18" cy="141.19" r="3.2"/><circle cx="952.51" cy="144.13" r="3.2"/><circle cx="951.29" cy="147.33" r="3.2"/><circle cx="953.12" cy="148.85" r="3.2"/><circle cx="951.5" cy="152.52" r="3.2"/><circle cx="951.85" cy="152.99" r="3.2"/><circle cx="949.35" cy="157.58" r="3.2"/><circle cx="947.67" cy="158.49" r="3.2"/><circle cx="951.48" cy="160.75" r="3.2"/><circle cx="951.88" cy="163.14" r="3.2"/><circle cx="949.92" cy="166.09" r="3.2"/><circle cx="951.25" cy="168.9" r="3.2"/><circle cx="951.41" cy="171.17" r="3.2"/><circle cx="950.82" cy="174.27" r="3.2"/><circle cx="951.67" cy="176.96" r="3.2"/><circle cx="952.81" cy="179.16" r="3.2"/><circle cx="950.95" cy="180.82" r="3.2"/><circle cx="952.13" cy="184.44" r="3.2"/><circle cx="951.68" cy="187.09" r="3.2"/><circle cx="950.46" cy="188.52" r="3.2"/><circle cx="952.56" cy="190.99" r="3.2"/><circle cx="956.77" cy="192.69" r="3.2"/><circle cx="953.27" cy="195.04" r="3.2"/><circle cx="953.82" cy="199.01" r="3.2"/><circle cx="953.69" cy="199.57" r="3.2"/><circle cx="955.11" cy="202.42" r="3.2"/><circle cx="954.6" cy="204.44" r="3.2"/><circle cx="951.6" cy="208.1" r="3.2"/><circle cx="952.19" cy="210.99" r="3.2"/><circle cx="956.11" cy="213.47" r="3.2"/><circle cx="955.59" cy="214.31" r="3.2"/><circle cx="955.1" cy="217.85" r="3.2"/><circle cx="955.18" cy="219.77" r="3.2"/><circle cx="955.17" cy="221.88" r="3.2"/><circle cx="955.24" cy="225.42" r="3.2"/><circle cx="954.81" cy="227.82" r="3.2"/><circle cx="953.65" cy="230.69" r="3.2"/><circle cx="955.99" cy="233.6" r="3.2"/><circle cx="957.14" cy="234.73" r="3.2"/><circle cx="952" cy="237.51" r="3.2"/><circle cx="956.27" cy="239.65" r="3.2"/><circle cx="957.46" cy="241.96" r="3.2"/><circle cx="953.94" cy="244.18" r="3.2"/><circle cx="954.14" cy="248.4" r="3.2"/><circle cx="956.55" cy="250.43" r="3.2"/><circle cx="957.66" cy="252.98" r="3.2"/><circle cx="953.69" cy="253.53" r="3.2"/><circle cx="951.29" cy="258.09" r="3.2"/><circle cx="954.92" cy="258.9" r="3.2"/><circle cx="953.43" cy="261.62" r="3.2"/><circle cx="956.56" cy="264.47" r="3.2"/><circle cx="957.12" cy="266.86" r="3.2"/><circle cx="956.36" cy="268.15" r="3.2"/><circle cx="958.42" cy="272.41" r="3.2"/><circle cx="959.03" cy="275.25" r="3.2"/><circle cx="953.9" cy="277.57" r="3.2"/><circle cx="953.76" cy="280.02" r="3.2"/><circle cx="958.23" cy="280.99" r="3.2"/><circle cx="956.55" cy="284.43" r="3.2"/><circle cx="955.84" cy="287.47" r="3.2"/><circle cx="958.18" cy="289.19" r="3.2"/><circle cx="956.19" cy="288.74" r="3.2"/><circle cx="958.3" cy="292.43" r="3.2"/><circle cx="956.04" cy="291.7" r="3.2"/><circle cx="957.85" cy="292.89" r="3.2"/><circle cx="953.2" cy="293.83" r="3.2"/><circle cx="954.45" cy="295.69" r="3.2"/><circle cx="954.75" cy="295.41" r="3.2"/><circle cx="957.25" cy="297.8" r="3.2"/><circle cx="957.74" cy="298.48" r="3.2"/><circle cx="957.98" cy="300.64" r="3.2"/><circle cx="957.03" cy="301.26" r="3.2"/><circle cx="957.85" cy="304.42" r="3.2"/><circle cx="955.56" cy="303.96" r="3.2"/><circle cx="956" cy="305.33" r="3.2"/><circle cx="956.88" cy="306.17" r="3.2"/><circle cx="955.76" cy="308.77" r="3.2"/><circle cx="956.13" cy="307.88" r="3.2"/><circle cx="957.91" cy="310.28" r="3.2"/><circle cx="956.07" cy="311.16" r="3.2"/><circle cx="957.68" cy="312.23" r="3.2"/><circle cx="955.89" cy="312.77" r="3.2"/><circle cx="960.5" cy="315.99" r="3.2"/><circle cx="956.65" cy="317.02" r="3.2"/><circle cx="958.19" cy="317.81" r="3.2"/><circle cx="958.25" cy="317.26" r="3.2"/><circle cx="957.35" cy="321.64" r="3.2"/><circle cx="957.75" cy="320.48" r="3.2"/><circle cx="958.65" cy="323.06" r="3.2"/><circle cx="958.37" cy="322.54" r="3.2"/><circle cx="957.83" cy="326.75" r="3.2"/><circle cx="958.53" cy="325.26" r="3.2"/><circle cx="957.84" cy="327.75" r="3.2"/><circle cx="957.76" cy="328.94" r="3.2"/><circle cx="956.94" cy="331.32" r="3.2"/><circle cx="956.31" cy="331.13" r="3.2"/><circle cx="958.79" cy="333.62" r="3.2"/><circle cx="956.31" cy="333.5" r="3.2"/><circle cx="959.67" cy="336.45" r="3.2"/><circle cx="961.5" cy="334.26" r="3.2"/><circle cx="961.72" cy="338.54" r="3.2"/><circle cx="957.79" cy="339.01" r="3.2"/><circle cx="958.64" cy="340.52" r="3.2"/><circle cx="957.17" cy="341.24" r="3.2"/><circle cx="961.19" cy="343.06" r="3.2"/><circle cx="958.53" cy="342.7" r="3.2"/><circle cx="961.22" cy="345.79" r="3.2"/><circle cx="959.59" cy="345.38" r="3.2"/><circle cx="961.76" cy="347.42" r="3.2"/><circle cx="958.99" cy="348.54" r="3.2"/><circle cx="962.96" cy="350.15" r="3.2"/><circle cx="959.47" cy="349.68" r="3.2"/><circle cx="960.98" cy="351.75" r="3.2"/><circle cx="958.75" cy="351.61" r="3.2"/><circle cx="959.87" cy="356.06" r="3.2"/><circle cx="959.46" cy="355.86" r="3.2"/><circle cx="963.8" cy="358.6" r="3.2"/><circle cx="961.52" cy="358.49" r="3.2"/><circle cx="962.86" cy="358.78" r="3.2"/><circle cx="963.22" cy="359.94" r="3.2"/><circle cx="962.06" cy="363.41" r="3.2"/><circle cx="961.74" cy="363.6" r="3.2"/><circle cx="959.69" cy="364.89" r="3.2"/><circle cx="959.24" cy="364.58" r="3.2"/><circle cx="961.6" cy="366.96" r="3.2"/><circle cx="960.63" cy="368.37" r="3.2"/><circle cx="961.23" cy="370.17" r="3.2"/><circle cx="961.34" cy="369.45" r="3.2"/><circle cx="962.15" cy="371.96" r="3.2"/><circle cx="960.33" cy="373.11" r="3.2"/><circle cx="961.69" cy="375.76" r="3.2"/><circle cx="960.76" cy="374.95" r="3.2"/><circle cx="962.82" cy="378.29" r="3.2"/><circle cx="961.59" cy="377.86" r="3.2"/><circle cx="964.52" cy="378.76" r="3.2"/><circle cx="961.05" cy="380.33" r="3.2"/><circle cx="967.12" cy="382.03" r="3.2"/><circle cx="965.7" cy="382.46" r="3.2"/><circle cx="965.47" cy="385.22" r="3.2"/><circle cx="966.64" cy="384.26" r="3.2"/><circle cx="963.29" cy="386.08" r="3.2"/><circle cx="963.02" cy="386.91" r="3.2"/><circle cx="965.56" cy="388.6" r="3.2"/><circle cx="964.63" cy="389.6" r="3.2"/><circle cx="965.97" cy="391.45" r="3.2"/><circle cx="966.18" cy="390.7" r="3.2"/><circle cx="964.03" cy="394.04" r="3.2"/><circle cx="964.44" cy="394.71" r="3.2"/><circle cx="962.99" cy="395.51" r="3.2"/><circle cx="963.29" cy="396.91" r="3.2"/><circle cx="967.42" cy="399.55" r="3.2"/><circle cx="965.14" cy="399.28" r="3.2"/><circle cx="966.5" cy="401.04" r="3.2"/><circle cx="963.54" cy="402.79" r="3.2"/><circle cx="963.36" cy="404.23" r="3.2"/><circle cx="964.24" cy="403.23" r="3.2"/><circle cx="965.57" cy="407.12" r="3.2"/><circle cx="965.72" cy="405.71" r="3.2"/><circle cx="965.8" cy="409" r="3.2"/><circle cx="966.32" cy="409.69" r="3.2"/><circle cx="963.57" cy="410.35" r="3.2"/><circle cx="968.29" cy="410.97" r="3.2"/><circle cx="965.97" cy="414.37" r="3.2"/><circle cx="965.16" cy="413.29" r="3.2"/><circle cx="966.73" cy="415.34" r="3.2"/><circle cx="967.7" cy="415.94" r="3.2"/><circle cx="964.96" cy="418.63" r="3.2"/><circle cx="965.76" cy="419.69" r="3.2"/><circle cx="966.72" cy="421.4" r="3.2"/><circle cx="968.04" cy="421.49" r="3.2"/><circle cx="966.14" cy="423.05" r="3.2"/><circle cx="970.13" cy="424.5" r="3.2"/><circle cx="967.79" cy="425.66" r="3.2"/><circle cx="969.15" cy="425.63" r="3.2"/><circle cx="965.24" cy="428.8" r="3.2"/><circle cx="968.8" cy="429.63" r="3.2"/><circle cx="966.72" cy="430.38" r="3.2"/><circle cx="965.23" cy="430.33" r="3.2"/><circle cx="969.02" cy="432.99" r="3.2"/><circle cx="968.7" cy="434.15" r="3.2"/><circle cx="966.3" cy="435.28" r="3.2"/><circle cx="968.3" cy="435.15" r="3.2"/><circle cx="969.01" cy="439.48" r="3.2"/><circle cx="967.15" cy="437.43" r="3.2"/><circle cx="969.73" cy="440.88" r="3.2"/><circle cx="966.52" cy="439.76" r="3.2"/><circle cx="968.88" cy="442.35" r="3.2"/><circle cx="968.49" cy="442.64" r="3.2"/><circle cx="966.56" cy="444.96" r="3.2"/><circle cx="967.63" cy="444.58" r="3.2"/><circle cx="969.1" cy="448.54" r="3.2"/><circle cx="967.44" cy="448.64" r="3.2"/><circle cx="968.8" cy="449.62" r="3.2"/><circle cx="967.65" cy="449.71" r="3.2"/><circle cx="971.1" cy="452.91" r="3.2"/><circle cx="969.58" cy="452.23" r="3.2"/><circle cx="965.68" cy="455.15" r="3.2"/><circle cx="967.89" cy="456.6" r="3.2"/><circle cx="966.7" cy="457.25" r="3.2"/><circle cx="970.04" cy="457.3" r="3.2"/><circle cx="967.72" cy="460.29" r="3.2"/><circle cx="970" cy="459.83" r="3.2"/><circle cx="970.21" cy="463.81" r="3.2"/><circle cx="967.06" cy="462.24" r="3.2"/><circle cx="967.64" cy="465.56" r="3.2"/><circle cx="969.2" cy="464.39" r="3.2"/><circle cx="971.67" cy="467.78" r="3.2"/><circle cx="967.28" cy="468.4" r="3.2"/><circle cx="968.24" cy="469.92" r="3.2"/><circle cx="967.44" cy="469.75" r="3.2"/><circle cx="966.92" cy="472.39" r="3.2"/><circle cx="969.51" cy="473.49" r="3.2"/><circle cx="969.23" cy="474.67" r="3.2"/><circle cx="968.32" cy="475.25" r="3.2"/><circle cx="968.13" cy="477.22" r="3.2"/><circle cx="967.45" cy="476.51" r="3.2"/><circle cx="968.86" cy="479.55" r="3.2"/><circle cx="968.98" cy="480.52" r="3.2"/><circle cx="969.75" cy="481.93" r="3.2"/><circle cx="966.05" cy="483.11" r="3.2"/><circle cx="971" cy="485.82" r="3.2"/><circle cx="969.55" cy="484.36" r="3.2"/><circle cx="968.39" cy="486.22" r="3.2"/><circle cx="968.03" cy="486.99" r="3.2"/><circle cx="966.96" cy="489.59" r="3.2"/><circle cx="967.75" cy="489.2" r="3.2"/><circle cx="967.05" cy="493.08" r="3.2"/><circle cx="967.79" cy="491.49" r="3.2"/><circle cx="970.98" cy="493.78" r="3.2"/><circle cx="971.4" cy="495.21" r="3.2"/><circle cx="967.87" cy="496.05" r="3.2"/><circle cx="970.15" cy="496.43" r="3.2"/><circle cx="969.51" cy="499.13" r="3.2"/><circle cx="968.94" cy="499.15" r="3.2"/><circle cx="969.62" cy="502.38" r="3.2"/><circle cx="970.62" cy="502.22" r="3.2"/><circle cx="972.13" cy="505.02" r="3.2"/><circle cx="969.31" cy="504.94" r="3.2"/><circle cx="971.11" cy="506.59" r="3.2"/><circle cx="972.44" cy="507.61" r="3.2"/><circle cx="971.96" cy="508.89" r="3.2"/><circle cx="973.46" cy="509.66" r="3.2"/><circle cx="972.41" cy="510.76" r="3.2"/><circle cx="972.01" cy="512.55" r="3.2"/><circle cx="972.43" cy="513.6" r="3.2"/><circle cx="973.18" cy="513.31" r="3.2"/><circle cx="971.4" cy="517.22" r="3.2"/><circle cx="971.04" cy="517.54" r="3.2"/><circle cx="972.95" cy="518.67" r="3.2"/><circle cx="973.76" cy="519.02" r="3.2"/><circle cx="973.21" cy="522.68" r="3.2"/><circle cx="971.71" cy="522.44" r="3.2"/><circle cx="971" cy="524.41" r="3.2"/><circle cx="971.96" cy="524.58" r="3.2"/><circle cx="972.34" cy="526.38" r="3.2"/><circle cx="970.43" cy="525.66" r="3.2"/><circle cx="972.17" cy="529.63" r="3.2"/><circle cx="973.51" cy="529.73" r="3.2"/><circle cx="972.69" cy="530.88" r="3.2"/><circle cx="970.33" cy="531.78" r="3.2"/><circle cx="971.79" cy="534.01" r="3.2"/><circle cx="972.4" cy="533.56" r="3.2"/><circle cx="972.73" cy="536.14" r="3.2"/><circle cx="972.66" cy="535.48" r="3.2"/><circle cx="973.17" cy="539.3" r="3.2"/><circle cx="972.23" cy="538.18" r="3.2"/><circle cx="972.05" cy="541.29" r="3.2"/><circle cx="970.8" cy="540.89" r="3.2"/><circle cx="973.25" cy="543.22" r="3.2"/><circle cx="972.95" cy="543.85" r="3.2"/><circle cx="972.38" cy="545.75" r="3.2"/><circle cx="973.08" cy="546.78" r="3.2"/><circle cx="971.81" cy="547.81" r="3.2"/><circle cx="972.19" cy="548.51" r="3.2"/><circle cx="971.85" cy="551.69" r="3.2"/><circle cx="972.98" cy="550.54" r="3.2"/><circle cx="972.5" cy="553.17" r="3.2"/><circle cx="972.92" cy="552.97" r="3.2"/><circle cx="973.17" cy="555.22" r="3.2"/><circle cx="972.63" cy="555.02" r="3.2"/><circle cx="972.12" cy="557.98" r="3.2"/><circle cx="972.2" cy="557.6" r="3.2"/><circle cx="973.15" cy="559.82" r="3.2"/><circle cx="975.49" cy="561.45" r="3.2"/><circle cx="973.23" cy="562.3" r="3.2"/><circle cx="972.6" cy="563.45" r="3.2"/><circle cx="970.92" cy="564.81" r="3.2"/><circle cx="972.26" cy="565.01" r="3.2"/><circle cx="973.23" cy="568.3" r="3.2"/><circle cx="974.96" cy="568.55" r="3.2"/><circle cx="973.32" cy="570.96" r="3.2"/><circle cx="974.29" cy="570.05" r="3.2"/><circle cx="972.82" cy="572.49" r="3.2"/><circle cx="973.4" cy="573.76" r="3.2"/><circle cx="973.48" cy="576.36" r="3.2"/><circle cx="973.19" cy="575.88" r="3.2"/><circle cx="973.88" cy="578.83" r="3.2"/><circle cx="973.83" cy="578.68" r="3.2"/><circle cx="973.23" cy="581.24" r="3.2"/><circle cx="973.41" cy="579.69" r="3.2"/><circle cx="972.79" cy="583.68" r="3.2"/><circle cx="973.17" cy="583.02" r="3.2"/><circle cx="974.17" cy="585.04" r="3.2"/><circle cx="973.76" cy="584.25" r="3.2"/><circle cx="972.93" cy="587.96" r="3.2"/><circle cx="972.42" cy="588.29" r="3.2"/><circle cx="972.36" cy="591.22" r="3.2"/><circle cx="974.3" cy="590.25" r="3.2"/><circle cx="973.08" cy="591.88" r="3.2"/><circle cx="973.08" cy="591.69" r="3.2"/><circle cx="974.38" cy="595.6" r="3.2"/><circle cx="973.82" cy="596.28" r="3.2"/><circle cx="974.09" cy="596.62" r="3.2"/><circle cx="974.18" cy="596.86" r="3.2"/><circle cx="973.54" cy="600.59" r="3.2"/><circle cx="974.86" cy="600.9" r="3.2"/><circle cx="973.33" cy="603.19" r="3.2"/><circle cx="972.72" cy="602.89" r="3.2"/><circle cx="973.57" cy="604.99" r="3.2"/><circle cx="972.63" cy="604.8" r="3.2"/><circle cx="973.6" cy="607.8" r="3.2"/><circle cx="974.05" cy="606.59" r="3.2"/><circle cx="971.69" cy="609.36" r="3.2"/><circle cx="972.26" cy="609.49" r="3.2"/><circle cx="973.56" cy="611.57" r="3.2"/><circle cx="973.81" cy="612.21" r="3.2"/><circle cx="973.54" cy="615.88" r="3.2"/><circle cx="974.52" cy="615.89" r="3.2"/><circle cx="972.28" cy="618.31" r="3.2"/><circle cx="972.08" cy="616.14" r="3.2"/><circle cx="972.13" cy="620.07" r="3.2"/><circle cx="972.61" cy="619.82" r="3.2"/><circle cx="972.67" cy="623.19" r="3.2"/><circle cx="971.95" cy="621.62" r="3.2"/><circle cx="973.21" cy="624.17" r="3.2"/><circle cx="973.22" cy="623.8" r="3.2"/><circle cx="972.92" cy="627.43" r="3.2"/><circle cx="972.73" cy="627.39" r="3.2"/><circle cx="973.13" cy="629.14" r="3.2"/><circle cx="972.3" cy="629.52" r="3.2"/><circle cx="972.6" cy="632.06" r="3.2"/><circle cx="972.69" cy="631.13" r="3.2"/><circle cx="973.2" cy="635.29" r="3.2"/><circle cx="972.59" cy="635.22" r="3.2"/><circle cx="972.81" cy="636.21" r="3.2"/><circle cx="973.74" cy="636.2" r="3.2"/><circle cx="973.45" cy="639.22" r="3.2"/><circle cx="972.35" cy="639.42" r="3.2"/><circle cx="972.67" cy="640.77" r="3.2"/><circle cx="971.8" cy="640.69" r="3.2"/><circle cx="972.74" cy="643.93" r="3.2"/><circle cx="973.6" cy="645.02" r="3.2"/><circle cx="973.17" cy="646.72" r="3.2"/><circle cx="972.49" cy="645.68" r="3.2"/><circle cx="971.44" cy="650.23" r="3.2"/><circle cx="972.69" cy="649.84" r="3.2"/><circle cx="972.35" cy="651.24" r="3.2"/><circle cx="973.68" cy="651.65" r="3.2"/><circle cx="974.47" cy="654.61" r="3.2"/><circle cx="973.59" cy="652.89" r="3.2"/><circle cx="973.7" cy="655.77" r="3.2"/><circle cx="972.55" cy="656.63" r="3.2"/><circle cx="972.72" cy="658.16" r="3.2"/><circle cx="972.23" cy="658.67" r="3.2"/><circle cx="973.77" cy="662.23" r="3.2"/><circle cx="971.41" cy="661.45" r="3.2"/><circle cx="971.43" cy="664.75" r="3.2"/><circle cx="972.88" cy="664.34" r="3.2"/><circle cx="972.16" cy="665.82" r="3.2"/><circle cx="972.61" cy="666.98" r="3.2"/><circle cx="971.27" cy="667.74" r="3.2"/><circle cx="971.56" cy="669.73" r="3.2"/><circle cx="973.38" cy="671.63" r="3.2"/><circle cx="973.49" cy="670.14" r="3.2"/><circle cx="972.7" cy="673.67" r="3.2"/><circle cx="972.53" cy="674.57" r="3.2"/><circle cx="972" cy="676.42" r="3.2"/><circle cx="972.35" cy="675.87" r="3.2"/><circle cx="972.86" cy="679.26" r="3.2"/><circle cx="971.99" cy="677.3" r="3.2"/><circle cx="972.11" cy="679.97" r="3.2"/><circle cx="972.46" cy="681.03" r="3.2"/><circle cx="971.81" cy="682.85" r="3.2"/><circle cx="972" cy="682.5" r="3.2"/><circle cx="971.58" cy="686.7" r="3.2"/><circle cx="971.11" cy="686.54" r="3.2"/><circle cx="972.01" cy="689.33" r="3.2"/><circle cx="973.03" cy="687.41" r="3.2"/><circle cx="972.36" cy="690.7" r="3.2"/><circle cx="973.3" cy="689.59" r="3.2"/><circle cx="971.27" cy="692.39" r="3.2"/><circle cx="972.8" cy="692.89" r="3.2"/><circle cx="971.2" cy="695.54" r="3.2"/><circle cx="973.14" cy="695.34" r="3.2"/><circle cx="973.6" cy="698.95" r="3.2"/><circle cx="972.06" cy="697.64" r="3.2"/><circle cx="972.1" cy="699.82" r="3.2"/><circle cx="973.14" cy="699.4" r="3.2"/><circle cx="971.64" cy="702.16" r="3.2"/><circle cx="971.72" cy="703.13" r="3.2"/><circle cx="972.99" cy="705.13" r="3.2"/><circle cx="972.25" cy="705.59" r="3.2"/><circle cx="972.37" cy="707.45" r="3.2"/><circle cx="973.18" cy="709.02" r="3.2"/><circle cx="972.41" cy="709.21" r="3.2"/><circle cx="973.03" cy="709.75" r="3.2"/><circle cx="973.25" cy="712.21" r="3.2"/><circle cx="971.68" cy="712.92" r="3.2"/><circle cx="972.3" cy="715.27" r="3.2"/><circle cx="974.7" cy="714.08" r="3.2"/><circle cx="971.63" cy="717.8" r="3.2"/><circle cx="972.51" cy="718.31" r="3.2"/><circle cx="970.69" cy="720.42" r="3.2"/><circle cx="971.8" cy="719.58" r="3.2"/><circle cx="971.73" cy="723.26" r="3.2"/><circle cx="973.62" cy="722.99" r="3.2"/><circle cx="970.95" cy="724.53" r="3.2"/><circle cx="972.41" cy="725.02" r="3.2"/><circle cx="970.99" cy="727.77" r="3.2"/><circle cx="971.7" cy="727.22" r="3.2"/><circle cx="973.12" cy="728.85" r="3.2"/><circle cx="971.93" cy="731.07" r="3.2"/><circle cx="972.86" cy="732.31" r="3.2"/><circle cx="971.85" cy="731.71" r="3.2"/><circle cx="972.65" cy="734.44" r="3.2"/><circle cx="972.27" cy="735.69" r="3.2"/><circle cx="972.24" cy="737.14" r="3.2"/><circle cx="971.19" cy="736.78" r="3.2"/><circle cx="972.47" cy="738.91" r="3.2"/><circle cx="972.74" cy="739.24" r="3.2"/><circle cx="972.35" cy="742.69" r="3.2"/><circle cx="970.29" cy="741.77" r="3.2"/><circle cx="971.43" cy="745.61" r="3.2"/><circle cx="971.75" cy="743.83" r="3.2"/><circle cx="971.82" cy="747.24" r="3.2"/><circle cx="972.73" cy="747.71" r="3.2"/><circle cx="971.88" cy="749.33" r="3.2"/><circle cx="972.14" cy="749.46" r="3.2"/><circle cx="971.67" cy="752.91" r="3.2"/><circle cx="971.8" cy="750.81" r="3.2"/><circle cx="972.46" cy="753.59" r="3.2"/><circle cx="971.71" cy="753.72" r="3.2"/><circle cx="973.05" cy="756.61" r="3.2"/><circle cx="972.14" cy="757.72" r="3.2"/><circle cx="972.79" cy="759.66" r="3.2"/><circle cx="972.19" cy="760.41" r="3.2"/><circle cx="972.94" cy="761.99" r="3.2"/><circle cx="972.99" cy="762.65" r="3.2"/><circle cx="972.37" cy="763.82" r="3.2"/><circle cx="972.01" cy="764.29" r="3.2"/><circle cx="972.02" cy="767.55" r="3.2"/><circle cx="970.47" cy="765.96" r="3.2"/><circle cx="941.2" cy="20" r="3.2"/><circle cx="941.5" cy="31" r="3.2"/><circle cx="939" cy="45" r="3.2"/><circle cx="940" cy="55" r="3.2"/><circle cx="943" cy="70" r="3.2"/><circle cx="944" cy="62" r="3.2"/></g>
<polyline fill="none" stroke="#ff0000" stroke-width="9.4" stroke-linejoin="round"  points="931.2,19.4 931.5,29.2 932,39 932.8,48.8 933.5,58.6 934.8,68.4 936.3,78.2 939.4,92.9 944.4,117.4 947.7,141.9 950,166.4 952.4,190.9 954.8,215.4 957.1,239.9 961.3,264.4 967.2,313.4 967.7,362.4 972,411.4 973.6,460.4 974,509.4 974.4,631.9 973.2,754.4 971,999.4"/>
<polyline fill="none" stroke="#0000ff" stroke-width="2.75" stroke-linejoin="round"  points="857.5,43.9 948,92.9 952.5,141.9 955,190.9 957.3,239.9 958.7,288.9 961.9,337.9 966,386.9 970.1,435.9 971.5,484.9 972.4,533.9 973.5,582.9 973,631.9 972.3,680.9 972.3,729.9 971.4,778.9 971,827.9"/><circle cx="857.5" cy="43.9" r="6.15" fill="#0000ff"/><circle cx="948" cy="92.9" r="6.15" fill="#0000ff"/><circle cx="952.5" cy="141.9" r="6.15" fill="#0000ff"/><circle cx="955" cy="190.9" r="6.15" fill="#0000ff"/><circle cx="957.3" cy="239.9" r="6.15" fill="#0000ff"/><circle cx="958.7" cy="288.9" r="6.15" fill="#0000ff"/><circle cx="961.9" cy="337.9" r="6.15" fill="#0000ff"/><circle cx="966" cy="386.9" r="6.15" fill="#0000ff"/><circle cx="970.1" cy="435.9" r="6.15" fill="#0000ff"/><circle cx="971.5" cy="484.9" r="6.15" fill="#0000ff"/><circle cx="972.4" cy="533.9" r="6.15" fill="#0000ff"/><circle cx="973.5" cy="582.9" r="6.15" fill="#0000ff"/><circle cx="973" cy="631.9" r="6.15" fill="#0000ff"/><circle cx="972.3" cy="680.9" r="6.15" fill="#0000ff"/><circle cx="972.3" cy="729.9" r="6.15" fill="#0000ff"/><circle cx="971.4" cy="778.9" r="6.15" fill="#0000ff"/>
<circle cx="931.2" cy="19.4" r="5.85" fill="#ff0000"/><circle cx="931.5" cy="29.2" r="5.85" fill="#ff0000"/><circle cx="932" cy="39" r="5.85" fill="#ff0000"/><circle cx="932.8" cy="48.8" r="5.85" fill="#ff0000"/><circle cx="933.5" cy="58.6" r="5.85" fill="#ff0000"/><circle cx="934.8" cy="68.4" r="5.85" fill="#ff0000"/><circle cx="936.3" cy="78.2" r="5.85" fill="#ff0000"/><circle cx="939.4" cy="92.9" r="5.85" fill="#ff0000"/><circle cx="944.4" cy="117.4" r="5.85" fill="#ff0000"/><circle cx="947.7" cy="141.9" r="5.85" fill="#ff0000"/><circle cx="950" cy="166.4" r="5.85" fill="#ff0000"/><circle cx="952.4" cy="190.9" r="5.85" fill="#ff0000"/><circle cx="954.8" cy="215.4" r="5.85" fill="#ff0000"/><circle cx="957.1" cy="239.9" r="5.85" fill="#ff0000"/><circle cx="961.3" cy="264.4" r="5.85" fill="#ff0000"/><circle cx="967.2" cy="313.4" r="5.85" fill="#ff0000"/><circle cx="967.7" cy="362.4" r="5.85" fill="#ff0000"/><circle cx="972" cy="411.4" r="5.85" fill="#ff0000"/><circle cx="973.6" cy="460.4" r="5.85" fill="#ff0000"/><circle cx="974" cy="509.4" r="5.85" fill="#ff0000"/><circle cx="974.4" cy="631.9" r="5.85" fill="#ff0000"/><circle cx="973.2" cy="754.4" r="5.85" fill="#ff0000"/>
<polyline fill="none" stroke="#c8860f" stroke-width="3.45" stroke-linejoin="round"  points="955.4,19.4 955.4,29.2 955.4,39 955.4,48.8 955.4,58.6 955.4,68.4 955.4,78.2 956,92.9 957.1,117.4 959.5,141.9 963.9,166.4 966.9,190.9 969.5,215.4 971.6,239.9 972.7,264.4 973.9,313.4 973.9,362.4 974.2,411.4 974.2,460.4 973.9,509.4 971.4,631.9 970.2,754.4 968.5,999.4"/><polyline fill="none" stroke="#ffa500" stroke-width="2.15" stroke-linejoin="round"  points="955.4,19.4 955.4,29.2 955.4,39 955.4,48.8 955.4,58.6 955.4,68.4 955.4,78.2 956,92.9 957.1,117.4 959.5,141.9 963.9,166.4 966.9,190.9 969.5,215.4 971.6,239.9 972.7,264.4 973.9,313.4 973.9,362.4 974.2,411.4 974.2,460.4 973.9,509.4 971.4,631.9 970.2,754.4 968.5,999.4"/><circle cx="955.4" cy="19.4" r="5.7" fill="#ffa500" stroke="#c8860f" stroke-width="0.9"/><circle cx="955.4" cy="29.2" r="5.7" fill="#ffa500" stroke="#c8860f" stroke-width="0.9"/><circle cx="955.4" cy="39" r="5.7" fill="#ffa500" stroke="#c8860f" stroke-width="0.9"/><circle cx="955.4" cy="48.8" r="5.7" fill="#ffa500" stroke="#c8860f" stroke-width="0.9"/><circle cx="955.4" cy="58.6" r="5.7" fill="#ffa500" stroke="#c8860f" stroke-width="0.9"/><circle cx="955.4" cy="68.4" r="5.7" fill="#ffa500" stroke="#c8860f" stroke-width="0.9"/><circle cx="955.4" cy="78.2" r="5.7" fill="#ffa500" stroke="#c8860f" stroke-width="0.9"/><circle cx="956" cy="92.9" r="5.7" fill="#ffa500" stroke="#c8860f" stroke-width="0.9"/><circle cx="957.1" cy="117.4" r="5.7" fill="#ffa500" stroke="#c8860f" stroke-width="0.9"/><circle cx="959.5" cy="141.9" r="5.7" fill="#ffa500" stroke="#c8860f" stroke-width="0.9"/><circle cx="963.9" cy="166.4" r="5.7" fill="#ffa500" stroke="#c8860f" stroke-width="0.9"/><circle cx="966.9" cy="190.9" r="5.7" fill="#ffa500" stroke="#c8860f" stroke-width="0.9"/><circle cx="969.5" cy="215.4" r="5.7" fill="#ffa500" stroke="#c8860f" stroke-width="0.9"/><circle cx="971.6" cy="239.9" r="5.7" fill="#ffa500" stroke="#c8860f" stroke-width="0.9"/><circle cx="972.7" cy="264.4" r="5.7" fill="#ffa500" stroke="#c8860f" stroke-width="0.9"/><circle cx="973.9" cy="313.4" r="5.7" fill="#ffa500" stroke="#c8860f" stroke-width="0.9"/><circle cx="973.9" cy="362.4" r="5.7" fill="#ffa500" stroke="#c8860f" stroke-width="0.9"/><circle cx="974.2" cy="411.4" r="5.7" fill="#ffa500" stroke="#c8860f" stroke-width="0.9"/><circle cx="974.2" cy="460.4" r="5.7" fill="#ffa500" stroke="#c8860f" stroke-width="0.9"/><circle cx="973.9" cy="509.4" r="5.7" fill="#ffa500" stroke="#c8860f" stroke-width="0.9"/><circle cx="971.4" cy="631.9" r="5.7" fill="#ffa500" stroke="#c8860f" stroke-width="0.9"/><circle cx="970.2" cy="754.4" r="5.7" fill="#ffa500" stroke="#c8860f" stroke-width="0.9"/>
<polyline fill="none" stroke="#008000" stroke-width="2.75" stroke-linejoin="round"  points="950,19.4 950,29.2 950,39 950,48.8 950,58.6 950,68.4 950,78.2 951.4,92.9 952.4,117.4 953.3,141.9 955.4,166.4 956.3,190.9 958.7,215.4 960.4,239.9 961.5,264.4 964,313.4 964.8,362.4 966.7,411.4 967.4,460.4 969.7,509.4 972.6,631.9 971.8,754.4 970.5,999.4"/><circle cx="950" cy="19.4" r="6.15" fill="#008000"/><circle cx="950" cy="29.2" r="6.15" fill="#008000"/><circle cx="950" cy="39" r="6.15" fill="#008000"/><circle cx="950" cy="48.8" r="6.15" fill="#008000"/><circle cx="950" cy="58.6" r="6.15" fill="#008000"/><circle cx="950" cy="68.4" r="6.15" fill="#008000"/><circle cx="950" cy="78.2" r="6.15" fill="#008000"/><circle cx="951.4" cy="92.9" r="6.15" fill="#008000"/><circle cx="952.4" cy="117.4" r="6.15" fill="#008000"/><circle cx="953.3" cy="141.9" r="6.15" fill="#008000"/><circle cx="955.4" cy="166.4" r="6.15" fill="#008000"/><circle cx="956.3" cy="190.9" r="6.15" fill="#008000"/><circle cx="958.7" cy="215.4" r="6.15" fill="#008000"/><circle cx="960.4" cy="239.9" r="6.15" fill="#008000"/><circle cx="961.5" cy="264.4" r="6.15" fill="#008000"/><circle cx="964" cy="313.4" r="6.15" fill="#008000"/><circle cx="964.8" cy="362.4" r="6.15" fill="#008000"/><circle cx="966.7" cy="411.4" r="6.15" fill="#008000"/><circle cx="967.4" cy="460.4" r="6.15" fill="#008000"/><circle cx="969.7" cy="509.4" r="6.15" fill="#008000"/><circle cx="972.6" cy="631.9" r="6.15" fill="#008000"/><circle cx="971.8" cy="754.4" r="6.15" fill="#008000"/>
<polyline fill="none" stroke="#ff00ff" stroke-width="2.75" stroke-linejoin="round"  points="979.2,21.82 979.2,26.95 979.2,32.37 979.2,38.11 979.2,44.28 979.2,50.96 979.2,58.26 979.2,66.31 979.2,75.28 979.2,85.39 979.2,96.87 978.9,110.03 978.7,125.24 978.7,142.93 978.7,163.68 978.7,188.13 978.7,217.09 973.6,251.53 968.7,292.64 969.5,341.85 970.5,400.88 970.3,471.8 972.4,557.07 972.3,659.66 972.3,783.07 972.5,931.42"/><circle cx="979.2" cy="21.82" r="6.15" fill="#ff00ff"/><circle cx="979.2" cy="26.95" r="6.15" fill="#ff00ff"/><circle cx="979.2" cy="32.37" r="6.15" fill="#ff00ff"/><circle cx="979.2" cy="38.11" r="6.15" fill="#ff00ff"/><circle cx="979.2" cy="44.28" r="6.15" fill="#ff00ff"/><circle cx="979.2" cy="50.96" r="6.15" fill="#ff00ff"/><circle cx="979.2" cy="58.26" r="6.15" fill="#ff00ff"/><circle cx="979.2" cy="66.31" r="6.15" fill="#ff00ff"/><circle cx="979.2" cy="75.28" r="6.15" fill="#ff00ff"/><circle cx="979.2" cy="85.39" r="6.15" fill="#ff00ff"/><circle cx="979.2" cy="96.87" r="6.15" fill="#ff00ff"/><circle cx="978.9" cy="110.03" r="6.15" fill="#ff00ff"/><circle cx="978.7" cy="125.24" r="6.15" fill="#ff00ff"/><circle cx="978.7" cy="142.93" r="6.15" fill="#ff00ff"/><circle cx="978.7" cy="163.68" r="6.15" fill="#ff00ff"/><circle cx="978.7" cy="188.13" r="6.15" fill="#ff00ff"/><circle cx="978.7" cy="217.09" r="6.15" fill="#ff00ff"/><circle cx="973.6" cy="251.53" r="6.15" fill="#ff00ff"/><circle cx="968.7" cy="292.64" r="6.15" fill="#ff00ff"/><circle cx="969.5" cy="341.85" r="6.15" fill="#ff00ff"/><circle cx="970.5" cy="400.88" r="6.15" fill="#ff00ff"/><circle cx="970.3" cy="471.8" r="6.15" fill="#ff00ff"/><circle cx="972.4" cy="557.07" r="6.15" fill="#ff00ff"/><circle cx="972.3" cy="659.66" r="6.15" fill="#ff00ff"/><circle cx="972.3" cy="783.07" r="6.15" fill="#ff00ff"/>
</g>
<path d="M583.3 814.55v6.3M692.65 814.55v6.3M802 814.55v6.3M911.35 814.55v6.3M580.4 19.4h-6.3M580.4 117.4h-6.3M580.4 215.4h-6.3M580.4 313.4h-6.3M580.4 411.4h-6.3M580.4 509.4h-6.3M580.4 607.4h-6.3M580.4 705.4h-6.3M580.4 803.4h-6.3" stroke="#000" stroke-width="1.45" fill="none"/>
<rect x="580.4" y="19.4" width="402.3" height="795.15" fill="none" stroke="#000" stroke-width="1.45"/>
<text transform="translate(583.3 842.1) scale(0.925 1)" font-size="18.06" text-anchor="middle">0</text>
<text transform="translate(692.65 842.1) scale(0.925 1)" font-size="18.06" text-anchor="middle">10</text>
<text transform="translate(802 842.1) scale(0.925 1)" font-size="18.06" text-anchor="middle">20</text>
<text transform="translate(911.35 842.1) scale(0.925 1)" font-size="18.06" text-anchor="middle">30</text>
<text transform="translate(781.5 869.9) scale(0.984 1)" font-size="23" text-anchor="middle" font-weight="bold">Salinity</text>
<clipPath id="c3"><rect x="1072.2" y="19.4" width="402.5" height="795.15"/></clipPath>
<path d="M1081.4 814.55V19.4M1147.2 814.55V19.4M1213 814.55V19.4M1278.8 814.55V19.4M1344.6 814.55V19.4M1410.4 814.55V19.4M1072.2 19.4H1474.7M1072.2 117.4H1474.7M1072.2 215.4H1474.7M1072.2 313.4H1474.7M1072.2 411.4H1474.7M1072.2 509.4H1474.7M1072.2 607.4H1474.7M1072.2 705.4H1474.7M1072.2 803.4H1474.7" stroke="#b0b0b0" stroke-width="0.9" stroke-dasharray="3.3 1.45" fill="none"/>
<g clip-path="url(#c3)">
<g fill="#00ffff"><circle cx="1081.4" cy="19.4" r="3.2"/><circle cx="1392.91" cy="94.59" r="3.2"/><circle cx="1395.37" cy="98.86" r="3.2"/><circle cx="1394.92" cy="99.48" r="3.2"/><circle cx="1396.57" cy="103.27" r="3.2"/><circle cx="1396.94" cy="104.02" r="3.2"/><circle cx="1395.69" cy="108.27" r="3.2"/><circle cx="1396.64" cy="110.05" r="3.2"/><circle cx="1401.71" cy="112.83" r="3.2"/><circle cx="1395" cy="114.85" r="3.2"/><circle cx="1399.68" cy="116.98" r="3.2"/><circle cx="1394.91" cy="120.41" r="3.2"/><circle cx="1393.91" cy="121.26" r="3.2"/><circle cx="1393.49" cy="125.62" r="3.2"/><circle cx="1393.35" cy="126.14" r="3.2"/><circle cx="1393.3" cy="130.66" r="3.2"/><circle cx="1394.47" cy="133.17" r="3.2"/><circle cx="1394.51" cy="133.95" r="3.2"/><circle cx="1394.68" cy="136.43" r="3.2"/><circle cx="1394.61" cy="138.74" r="3.2"/><circle cx="1396.53" cy="142.52" r="3.2"/><circle cx="1395.25" cy="145.54" r="3.2"/><circle cx="1395.22" cy="146.12" r="3.2"/><circle cx="1395.65" cy="150.12" r="3.2"/><circle cx="1396.36" cy="152.59" r="3.2"/><circle cx="1396.67" cy="154.92" r="3.2"/><circle cx="1400.19" cy="156.08" r="3.2"/><circle cx="1396.38" cy="159.99" r="3.2"/><circle cx="1399.41" cy="160.69" r="3.2"/><circle cx="1396.8" cy="163.84" r="3.2"/><circle cx="1395.78" cy="166.59" r="3.2"/><circle cx="1399.12" cy="169.77" r="3.2"/><circle cx="1397.57" cy="170.96" r="3.2"/><circle cx="1399.27" cy="172.99" r="3.2"/><circle cx="1395.27" cy="177.07" r="3.2"/><circle cx="1400.51" cy="177.51" r="3.2"/><circle cx="1399.15" cy="180.17" r="3.2"/><circle cx="1399.64" cy="184.54" r="3.2"/><circle cx="1399.56" cy="185.16" r="3.2"/><circle cx="1399.73" cy="187.65" r="3.2"/><circle cx="1399.19" cy="191.34" r="3.2"/><circle cx="1401.68" cy="194.35" r="3.2"/><circle cx="1401.47" cy="196.32" r="3.2"/><circle cx="1404.59" cy="197.13" r="3.2"/><circle cx="1397.79" cy="200.06" r="3.2"/><circle cx="1402.19" cy="202.04" r="3.2"/><circle cx="1399.11" cy="205.61" r="3.2"/><circle cx="1402.28" cy="207.1" r="3.2"/><circle cx="1404.26" cy="209.35" r="3.2"/><circle cx="1404.22" cy="213.86" r="3.2"/><circle cx="1402.86" cy="214.49" r="3.2"/><circle cx="1402.28" cy="217.68" r="3.2"/><circle cx="1403.62" cy="219.53" r="3.2"/><circle cx="1403.43" cy="223.32" r="3.2"/><circle cx="1403.19" cy="225.2" r="3.2"/><circle cx="1405.7" cy="227.64" r="3.2"/><circle cx="1405.81" cy="231.1" r="3.2"/><circle cx="1404.28" cy="233.67" r="3.2"/><circle cx="1406.33" cy="235.92" r="3.2"/><circle cx="1405.44" cy="236.68" r="3.2"/><circle cx="1404.47" cy="239.34" r="3.2"/><circle cx="1406.59" cy="242.37" r="3.2"/><circle cx="1406.53" cy="244.58" r="3.2"/><circle cx="1404.91" cy="246.08" r="3.2"/><circle cx="1406.12" cy="250.15" r="3.2"/><circle cx="1405.64" cy="252.27" r="3.2"/><circle cx="1405.28" cy="255.06" r="3.2"/><circle cx="1410.98" cy="257.57" r="3.2"/><circle cx="1407.13" cy="259.26" r="3.2"/><circle cx="1406.96" cy="263.09" r="3.2"/><circle cx="1409.66" cy="264.13" r="3.2"/><circle cx="1406.76" cy="265.99" r="3.2"/><circle cx="1409.58" cy="270.5" r="3.2"/><circle cx="1411.03" cy="272.77" r="3.2"/><circle cx="1408.85" cy="273.61" r="3.2"/><circle cx="1407.63" cy="276.03" r="3.2"/><circle cx="1408.06" cy="278.38" r="3.2"/><circle cx="1411.97" cy="282.23" r="3.2"/><circle cx="1411.9" cy="284.98" r="3.2"/><circle cx="1412.43" cy="286.03" r="3.2"/><circle cx="1408.23" cy="289.25" r="3.2"/><circle cx="1404.84" cy="290.03" r="3.2"/><circle cx="1406.61" cy="290.15" r="3.2"/><circle cx="1407.17" cy="291.37" r="3.2"/><circle cx="1402.5" cy="294.02" r="3.2"/><circle cx="1409.49" cy="294.11" r="3.2"/><circle cx="1407.82" cy="296.83" r="3.2"/><circle cx="1404.91" cy="295.99" r="3.2"/><circle cx="1411.01" cy="298.76" r="3.2"/><circle cx="1405.21" cy="298.27" r="3.2"/><circle cx="1405.93" cy="301.46" r="3.2"/><circle cx="1406.69" cy="301.42" r="3.2"/><circle cx="1408.28" cy="303.04" r="3.2"/><circle cx="1411.24" cy="304.13" r="3.2"/><circle cx="1407.47" cy="306.1" r="3.2"/><circle cx="1407.25" cy="305.19" r="3.2"/><circle cx="1409.63" cy="309.53" r="3.2"/><circle cx="1406.24" cy="308.57" r="3.2"/><circle cx="1409.09" cy="311.7" r="3.2"/><circle cx="1409.77" cy="311.72" r="3.2"/><circle cx="1411.55" cy="313.3" r="3.2"/><circle cx="1406.86" cy="314.35" r="3.2"/><circle cx="1406.48" cy="316.73" r="3.2"/><circle cx="1412.7" cy="316.65" r="3.2"/><circle cx="1411.22" cy="319.06" r="3.2"/><circle cx="1411.62" cy="317.7" r="3.2"/><circle cx="1411.88" cy="319.8" r="3.2"/><circle cx="1407.92" cy="320.8" r="3.2"/><circle cx="1414.8" cy="323.09" r="3.2"/><circle cx="1413.35" cy="324.39" r="3.2"/><circle cx="1412.8" cy="326.12" r="3.2"/><circle cx="1408.61" cy="326.37" r="3.2"/><circle cx="1412.65" cy="328.72" r="3.2"/><circle cx="1414.03" cy="327.78" r="3.2"/><circle cx="1415.19" cy="330.6" r="3.2"/><circle cx="1412.21" cy="330.17" r="3.2"/><circle cx="1414.81" cy="332.71" r="3.2"/><circle cx="1414.04" cy="333.17" r="3.2"/><circle cx="1412.8" cy="334.39" r="3.2"/><circle cx="1414.4" cy="334.91" r="3.2"/><circle cx="1416.63" cy="337.48" r="3.2"/><circle cx="1413.15" cy="336.92" r="3.2"/><circle cx="1418.15" cy="340.68" r="3.2"/><circle cx="1414.33" cy="340.17" r="3.2"/><circle cx="1412.2" cy="343.5" r="3.2"/><circle cx="1411.7" cy="341.71" r="3.2"/><circle cx="1412.18" cy="345.11" r="3.2"/><circle cx="1411.12" cy="344.76" r="3.2"/><circle cx="1417.24" cy="347.48" r="3.2"/><circle cx="1411.37" cy="347.35" r="3.2"/><circle cx="1410.72" cy="349.87" r="3.2"/><circle cx="1409.32" cy="349.41" r="3.2"/><circle cx="1412.04" cy="353.73" r="3.2"/><circle cx="1414.25" cy="353" r="3.2"/><circle cx="1412.74" cy="354.64" r="3.2"/><circle cx="1419.12" cy="354.76" r="3.2"/><circle cx="1417.38" cy="357.56" r="3.2"/><circle cx="1409.91" cy="358.12" r="3.2"/><circle cx="1415.94" cy="358.81" r="3.2"/><circle cx="1413.41" cy="359.86" r="3.2"/><circle cx="1414.56" cy="363.21" r="3.2"/><circle cx="1413.62" cy="363.34" r="3.2"/><circle cx="1417.98" cy="364.71" r="3.2"/><circle cx="1413.37" cy="365.63" r="3.2"/><circle cx="1416.97" cy="367.71" r="3.2"/><circle cx="1416.64" cy="366.2" r="3.2"/><circle cx="1414.49" cy="370.18" r="3.2"/><circle cx="1412.92" cy="370.4" r="3.2"/><circle cx="1415.97" cy="371.28" r="3.2"/><circle cx="1417.64" cy="372.96" r="3.2"/><circle cx="1418.8" cy="373.69" r="3.2"/><circle cx="1421.47" cy="374.8" r="3.2"/><circle cx="1420.39" cy="376.03" r="3.2"/><circle cx="1416.38" cy="377.06" r="3.2"/><circle cx="1414.71" cy="378.48" r="3.2"/><circle cx="1417.45" cy="379.75" r="3.2"/><circle cx="1416.23" cy="383.2" r="3.2"/><circle cx="1420.9" cy="381.15" r="3.2"/><circle cx="1414.26" cy="384.05" r="3.2"/><circle cx="1418.79" cy="385.62" r="3.2"/><circle cx="1419.37" cy="386.36" r="3.2"/><circle cx="1419.23" cy="386.31" r="3.2"/><circle cx="1421.98" cy="390.21" r="3.2"/><circle cx="1416.81" cy="389.16" r="3.2"/><circle cx="1419" cy="390.72" r="3.2"/><circle cx="1418.32" cy="392.52" r="3.2"/><circle cx="1425.32" cy="395.11" r="3.2"/><circle cx="1420.33" cy="393.18" r="3.2"/><circle cx="1422.48" cy="396.79" r="3.2"/><circle cx="1418.7" cy="396.67" r="3.2"/><circle cx="1423.14" cy="399.35" r="3.2"/><circle cx="1417.97" cy="398.43" r="3.2"/><circle cx="1424.9" cy="402.61" r="3.2"/><circle cx="1420.62" cy="401.15" r="3.2"/><circle cx="1421.45" cy="404.13" r="3.2"/><circle cx="1418.92" cy="403.63" r="3.2"/><circle cx="1423.9" cy="405.96" r="3.2"/><circle cx="1422.7" cy="407.01" r="3.2"/><circle cx="1420.35" cy="409.68" r="3.2"/><circle cx="1420.02" cy="409.99" r="3.2"/><circle cx="1421.18" cy="411.27" r="3.2"/><circle cx="1423.4" cy="411.24" r="3.2"/><circle cx="1422.46" cy="414.18" r="3.2"/><circle cx="1428.02" cy="412.82" r="3.2"/><circle cx="1424.99" cy="416.53" r="3.2"/><circle cx="1425.92" cy="416.45" r="3.2"/><circle cx="1429.08" cy="419.47" r="3.2"/><circle cx="1419.86" cy="419.17" r="3.2"/><circle cx="1424.13" cy="420.71" r="3.2"/><circle cx="1425.29" cy="420.35" r="3.2"/><circle cx="1429.24" cy="424.65" r="3.2"/><circle cx="1424.75" cy="422.68" r="3.2"/><circle cx="1425.92" cy="426.78" r="3.2"/><circle cx="1427.32" cy="426.48" r="3.2"/><circle cx="1424.28" cy="427.97" r="3.2"/><circle cx="1428.38" cy="427.72" r="3.2"/><circle cx="1423.22" cy="429.94" r="3.2"/><circle cx="1425.18" cy="431.81" r="3.2"/><circle cx="1425.05" cy="432.95" r="3.2"/><circle cx="1426.14" cy="433.01" r="3.2"/><circle cx="1432.51" cy="436.05" r="3.2"/><circle cx="1432.35" cy="435.48" r="3.2"/><circle cx="1433.97" cy="439.17" r="3.2"/><circle cx="1431.94" cy="439.5" r="3.2"/><circle cx="1433.2" cy="440.54" r="3.2"/><circle cx="1431.89" cy="441.14" r="3.2"/><circle cx="1430.07" cy="442.59" r="3.2"/><circle cx="1428.44" cy="443.16" r="3.2"/><circle cx="1429.37" cy="446.25" r="3.2"/><circle cx="1426.16" cy="444.77" r="3.2"/><circle cx="1431.52" cy="448.94" r="3.2"/><circle cx="1434.09" cy="449.34" r="3.2"/><circle cx="1434.09" cy="451.65" r="3.2"/><circle cx="1427.87" cy="450.24" r="3.2"/><circle cx="1429.8" cy="453.65" r="3.2"/><circle cx="1424.16" cy="452.07" r="3.2"/><circle cx="1430.43" cy="455.46" r="3.2"/><circle cx="1432.6" cy="455.6" r="3.2"/><circle cx="1427.8" cy="456.96" r="3.2"/><circle cx="1431.77" cy="458.89" r="3.2"/><circle cx="1432.19" cy="461.23" r="3.2"/><circle cx="1431.44" cy="459.28" r="3.2"/><circle cx="1436.6" cy="463.09" r="3.2"/><circle cx="1433.09" cy="463.92" r="3.2"/><circle cx="1430.41" cy="465.68" r="3.2"/><circle cx="1433.13" cy="465.18" r="3.2"/><circle cx="1431.77" cy="467.14" r="3.2"/><circle cx="1430.97" cy="468.44" r="3.2"/><circle cx="1429.57" cy="469.72" r="3.2"/><circle cx="1434.22" cy="469.23" r="3.2"/><circle cx="1432.76" cy="472.77" r="3.2"/><circle cx="1432.18" cy="472.56" r="3.2"/><circle cx="1428.1" cy="473.98" r="3.2"/><circle cx="1430.33" cy="475.45" r="3.2"/><circle cx="1431.55" cy="476.67" r="3.2"/><circle cx="1429.51" cy="477.25" r="3.2"/><circle cx="1430.66" cy="480.39" r="3.2"/><circle cx="1432.62" cy="481.06" r="3.2"/><circle cx="1433.31" cy="482.05" r="3.2"/><circle cx="1434.85" cy="482.4" r="3.2"/><circle cx="1427.68" cy="484.06" r="3.2"/><circle cx="1436.54" cy="483.98" r="3.2"/><circle cx="1435.24" cy="487.34" r="3.2"/><circle cx="1431" cy="487.27" r="3.2"/><circle cx="1432.14" cy="488.99" r="3.2"/><circle cx="1429.42" cy="489.48" r="3.2"/><circle cx="1431.91" cy="491.52" r="3.2"/><circle cx="1431.15" cy="491.36" r="3.2"/><circle cx="1433.76" cy="494.08" r="3.2"/><circle cx="1434.88" cy="495.64" r="3.2"/><circle cx="1430.71" cy="495.99" r="3.2"/><circle cx="1435.75" cy="497.85" r="3.2"/><circle cx="1432.04" cy="499.77" r="3.2"/><circle cx="1432.39" cy="500.2" r="3.2"/><circle cx="1431.51" cy="501.22" r="3.2"/><circle cx="1433.2" cy="501.79" r="3.2"/><circle cx="1434.07" cy="504.54" r="3.2"/><circle cx="1431.99" cy="503.5" r="3.2"/><circle cx="1438.86" cy="507.14" r="3.2"/><circle cx="1433.94" cy="507.63" r="3.2"/><circle cx="1437.82" cy="509.91" r="3.2"/><circle cx="1437.31" cy="509.64" r="3.2"/><circle cx="1437.14" cy="513.01" r="3.2"/><circle cx="1437.99" cy="512.31" r="3.2"/><circle cx="1437.36" cy="515.06" r="3.2"/><circle cx="1436.28" cy="514.21" r="3.2"/><circle cx="1438.47" cy="517.76" r="3.2"/><circle cx="1439.14" cy="516.54" r="3.2"/><circle cx="1437.54" cy="518.98" r="3.2"/><circle cx="1437.92" cy="519.76" r="3.2"/><circle cx="1437.89" cy="522.08" r="3.2"/><circle cx="1438" cy="520.79" r="3.2"/><circle cx="1438.34" cy="523.38" r="3.2"/><circle cx="1437.88" cy="525.24" r="3.2"/><circle cx="1438.61" cy="527.74" r="3.2"/><circle cx="1438.14" cy="526.54" r="3.2"/><circle cx="1437.19" cy="529.67" r="3.2"/><circle cx="1439.19" cy="529.33" r="3.2"/><circle cx="1437.51" cy="530.73" r="3.2"/><circle cx="1437.14" cy="532.14" r="3.2"/><circle cx="1437.31" cy="532.92" r="3.2"/><circle cx="1438.25" cy="533.09" r="3.2"/><circle cx="1437.71" cy="537.47" r="3.2"/><circle cx="1437.82" cy="535.47" r="3.2"/><circle cx="1437.3" cy="539.59" r="3.2"/><circle cx="1440.07" cy="539.39" r="3.2"/><circle cx="1437.84" cy="542.05" r="3.2"/><circle cx="1438.85" cy="541.09" r="3.2"/><circle cx="1437.53" cy="544.48" r="3.2"/><circle cx="1438.89" cy="543.22" r="3.2"/><circle cx="1436.99" cy="547.26" r="3.2"/><circle cx="1436.68" cy="545.23" r="3.2"/><circle cx="1438.23" cy="549.72" r="3.2"/><circle cx="1438.75" cy="549.41" r="3.2"/><circle cx="1438.05" cy="550.41" r="3.2"/><circle cx="1438.93" cy="550.42" r="3.2"/><circle cx="1439.52" cy="553.48" r="3.2"/><circle cx="1439.7" cy="554" r="3.2"/><circle cx="1438.05" cy="555.69" r="3.2"/><circle cx="1439.01" cy="556.39" r="3.2"/><circle cx="1437.36" cy="559.46" r="3.2"/><circle cx="1439.12" cy="557.41" r="3.2"/><circle cx="1438.06" cy="561.22" r="3.2"/><circle cx="1439.16" cy="561.08" r="3.2"/><circle cx="1438.2" cy="564.11" r="3.2"/><circle cx="1438.84" cy="563.27" r="3.2"/><circle cx="1438.78" cy="564.59" r="3.2"/><circle cx="1439.98" cy="565.55" r="3.2"/><circle cx="1439.83" cy="568.45" r="3.2"/><circle cx="1438.19" cy="567.51" r="3.2"/><circle cx="1439.12" cy="570.3" r="3.2"/><circle cx="1439.55" cy="570.15" r="3.2"/><circle cx="1438.04" cy="572.11" r="3.2"/><circle cx="1438.8" cy="572.96" r="3.2"/><circle cx="1440.23" cy="575.94" r="3.2"/><circle cx="1439.14" cy="575.99" r="3.2"/><circle cx="1438.65" cy="576.9" r="3.2"/><circle cx="1439.26" cy="577.45" r="3.2"/><circle cx="1438.61" cy="581.55" r="3.2"/><circle cx="1438.7" cy="581.39" r="3.2"/><circle cx="1439.53" cy="583.16" r="3.2"/><circle cx="1439.73" cy="582.9" r="3.2"/><circle cx="1438.7" cy="586.44" r="3.2"/><circle cx="1436.81" cy="584.6" r="3.2"/><circle cx="1439.19" cy="588.59" r="3.2"/><circle cx="1439.8" cy="586.6" r="3.2"/><circle cx="1440.22" cy="589.47" r="3.2"/><circle cx="1440.21" cy="590.99" r="3.2"/><circle cx="1439.18" cy="592.1" r="3.2"/><circle cx="1439.26" cy="592.83" r="3.2"/><circle cx="1439.87" cy="596.02" r="3.2"/><circle cx="1438.8" cy="596.18" r="3.2"/><circle cx="1439.6" cy="598.55" r="3.2"/><circle cx="1439.51" cy="597.9" r="3.2"/><circle cx="1439.49" cy="599.92" r="3.2"/><circle cx="1440.5" cy="600.44" r="3.2"/><circle cx="1439.66" cy="602.82" r="3.2"/><circle cx="1439.17" cy="602.92" r="3.2"/><circle cx="1440.64" cy="605.93" r="3.2"/><circle cx="1439.19" cy="606.09" r="3.2"/><circle cx="1440.06" cy="606.34" r="3.2"/><circle cx="1440.67" cy="607.54" r="3.2"/><circle cx="1439.1" cy="609.72" r="3.2"/><circle cx="1440.16" cy="610.4" r="3.2"/><circle cx="1438.56" cy="612.9" r="3.2"/><circle cx="1440.93" cy="611.43" r="3.2"/><circle cx="1440.49" cy="615.84" r="3.2"/><circle cx="1440.68" cy="614.96" r="3.2"/><circle cx="1440.15" cy="617.38" r="3.2"/><circle cx="1441.19" cy="617.79" r="3.2"/><circle cx="1440.76" cy="619.99" r="3.2"/><circle cx="1440.26" cy="619.15" r="3.2"/><circle cx="1441.95" cy="622.21" r="3.2"/><circle cx="1438.68" cy="622.46" r="3.2"/><circle cx="1441.77" cy="625.28" r="3.2"/><circle cx="1440.37" cy="625.66" r="3.2"/><circle cx="1440.11" cy="627.5" r="3.2"/><circle cx="1440.58" cy="626.19" r="3.2"/><circle cx="1440.3" cy="629.63" r="3.2"/><circle cx="1441.56" cy="629.08" r="3.2"/><circle cx="1439.74" cy="631.04" r="3.2"/><circle cx="1439.37" cy="631.09" r="3.2"/><circle cx="1440.91" cy="634.92" r="3.2"/><circle cx="1441.4" cy="633.28" r="3.2"/><circle cx="1441.75" cy="636.31" r="3.2"/><circle cx="1439.59" cy="637.91" r="3.2"/><circle cx="1442.61" cy="638.5" r="3.2"/><circle cx="1440.51" cy="638.52" r="3.2"/><circle cx="1443.07" cy="641.27" r="3.2"/><circle cx="1440.93" cy="641.12" r="3.2"/><circle cx="1441.49" cy="643.9" r="3.2"/><circle cx="1439.8" cy="643.59" r="3.2"/><circle cx="1442.78" cy="645.89" r="3.2"/><circle cx="1442.16" cy="647.41" r="3.2"/><circle cx="1441.02" cy="649.38" r="3.2"/><circle cx="1441.61" cy="648.21" r="3.2"/><circle cx="1440.88" cy="652.12" r="3.2"/><circle cx="1440.55" cy="651.91" r="3.2"/><circle cx="1441.82" cy="654.56" r="3.2"/><circle cx="1441.51" cy="654.95" r="3.2"/><circle cx="1442.45" cy="656.47" r="3.2"/><circle cx="1441.43" cy="655.82" r="3.2"/><circle cx="1442.87" cy="659.5" r="3.2"/><circle cx="1443.22" cy="659.01" r="3.2"/><circle cx="1442.22" cy="660.95" r="3.2"/><circle cx="1442.42" cy="660.68" r="3.2"/><circle cx="1441.68" cy="662.72" r="3.2"/><circle cx="1440.63" cy="664.18" r="3.2"/><circle cx="1441.58" cy="665.99" r="3.2"/><circle cx="1442.12" cy="665.74" r="3.2"/><circle cx="1441.69" cy="669" r="3.2"/><circle cx="1443.16" cy="669.11" r="3.2"/><circle cx="1441.89" cy="671.76" r="3.2"/><circle cx="1440.62" cy="671.68" r="3.2"/><circle cx="1443.36" cy="673.17" r="3.2"/><circle cx="1441.06" cy="673.19" r="3.2"/><circle cx="1443.16" cy="675.25" r="3.2"/><circle cx="1442.94" cy="676.05" r="3.2"/><circle cx="1441.62" cy="678.86" r="3.2"/><circle cx="1442.68" cy="678.06" r="3.2"/><circle cx="1442.15" cy="679.86" r="3.2"/><circle cx="1441.59" cy="681.74" r="3.2"/><circle cx="1442.99" cy="683.75" r="3.2"/><circle cx="1441.78" cy="683.53" r="3.2"/><circle cx="1442.21" cy="685.26" r="3.2"/><circle cx="1443.38" cy="686.61" r="3.2"/><circle cx="1441.52" cy="687.41" r="3.2"/><circle cx="1442.05" cy="688.25" r="3.2"/><circle cx="1441.6" cy="691.66" r="3.2"/><circle cx="1443.84" cy="691.47" r="3.2"/><circle cx="1442.09" cy="693.51" r="3.2"/><circle cx="1443.18" cy="693.64" r="3.2"/><circle cx="1442.68" cy="696.09" r="3.2"/><circle cx="1442.48" cy="694.56" r="3.2"/><circle cx="1442.65" cy="698.3" r="3.2"/><circle cx="1443.35" cy="697.36" r="3.2"/><circle cx="1442.59" cy="699.84" r="3.2"/><circle cx="1444.16" cy="701.64" r="3.2"/><circle cx="1443.92" cy="703.68" r="3.2"/><circle cx="1442.47" cy="701.92" r="3.2"/><circle cx="1444.31" cy="706.21" r="3.2"/><circle cx="1443.32" cy="705.71" r="3.2"/><circle cx="1443.5" cy="706.98" r="3.2"/><circle cx="1443.4" cy="707.72" r="3.2"/><circle cx="1443.82" cy="710.43" r="3.2"/><circle cx="1443.62" cy="711.09" r="3.2"/><circle cx="1443.42" cy="711.82" r="3.2"/><circle cx="1443.82" cy="712.37" r="3.2"/><circle cx="1444.84" cy="714.79" r="3.2"/><circle cx="1443.22" cy="715.9" r="3.2"/><circle cx="1443.59" cy="716.95" r="3.2"/><circle cx="1444.6" cy="717.74" r="3.2"/><circle cx="1442.69" cy="718.97" r="3.2"/><circle cx="1443.95" cy="720.11" r="3.2"/><circle cx="1443.83" cy="722.37" r="3.2"/><circle cx="1445.06" cy="723.09" r="3.2"/><circle cx="1444.55" cy="725.2" r="3.2"/><circle cx="1443.33" cy="725.21" r="3.2"/><circle cx="1444.77" cy="726.79" r="3.2"/><circle cx="1445.98" cy="728.18" r="3.2"/><circle cx="1442.35" cy="731.01" r="3.2"/><circle cx="1443.18" cy="728.87" r="3.2"/><circle cx="1446.41" cy="732.3" r="3.2"/><circle cx="1444.94" cy="732.79" r="3.2"/><circle cx="1445.06" cy="735.3" r="3.2"/><circle cx="1443.7" cy="734.06" r="3.2"/><circle cx="1444.66" cy="737.02" r="3.2"/><circle cx="1444.34" cy="737.82" r="3.2"/><circle cx="1445.01" cy="739.74" r="3.2"/><circle cx="1444.01" cy="740.19" r="3.2"/><circle cx="1444.75" cy="741.42" r="3.2"/><circle cx="1444.45" cy="742.63" r="3.2"/><circle cx="1445.62" cy="745.74" r="3.2"/><circle cx="1444.57" cy="745.61" r="3.2"/><circle cx="1442.7" cy="747.58" r="3.2"/><circle cx="1444.6" cy="746.34" r="3.2"/><circle cx="1444.42" cy="748.33" r="3.2"/><circle cx="1445.54" cy="749.81" r="3.2"/><circle cx="1443.78" cy="751.38" r="3.2"/><circle cx="1444.46" cy="752.27" r="3.2"/><circle cx="1445.18" cy="755.58" r="3.2"/><circle cx="1444.72" cy="753.62" r="3.2"/><circle cx="1445.08" cy="756.5" r="3.2"/><circle cx="1446.01" cy="756.74" r="3.2"/><circle cx="1444.04" cy="758.35" r="3.2"/><circle cx="1445.26" cy="759.97" r="3.2"/><circle cx="1445.24" cy="761.68" r="3.2"/><circle cx="1446.71" cy="762.46" r="3.2"/><circle cx="1444.9" cy="764.14" r="3.2"/><circle cx="1445.18" cy="763.26" r="3.2"/><circle cx="1444.67" cy="766.8" r="3.2"/><circle cx="1444.5" cy="766.05" r="3.2"/><circle cx="1378" cy="21" r="3.2"/><circle cx="1378.5" cy="30" r="3.2"/><circle cx="1379" cy="36" r="3.2"/></g>
<polyline fill="none" stroke="#ff0000" stroke-width="8.6" stroke-linejoin="round"  points="1386.5,19.4 1386.5,29.2 1386.8,39 1387.2,48.8 1387.8,58.6 1388.6,68.4 1389.6,78.2 1392.4,92.9 1393.6,117.4 1398.3,141.9 1403.6,166.4 1408.9,190.9 1414.8,215.4 1416.5,239.9 1420,264.4 1424.2,313.4 1427.7,362.4 1432.8,411.4 1435,460.4 1437.5,509.4 1443.1,631.9 1446,754.4 1449,999.4"/>
<polyline fill="none" stroke="#0000ff" stroke-width="2.75" stroke-linejoin="round"  points="1315.3,43.9 1395,92.9 1399,141.9 1403,190.9 1408.9,239.9 1413,288.9 1418.9,337.9 1425.4,386.9 1432.1,435.9 1435.1,484.9 1438.4,533.9 1439.1,582.9 1441,631.9 1442.4,680.9 1444.3,729.9 1445.3,778.9 1446,827.9"/><circle cx="1315.3" cy="43.9" r="6.15" fill="#0000ff"/><circle cx="1395" cy="92.9" r="6.15" fill="#0000ff"/><circle cx="1399" cy="141.9" r="6.15" fill="#0000ff"/><circle cx="1403" cy="190.9" r="6.15" fill="#0000ff"/><circle cx="1408.9" cy="239.9" r="6.15" fill="#0000ff"/><circle cx="1413" cy="288.9" r="6.15" fill="#0000ff"/><circle cx="1418.9" cy="337.9" r="6.15" fill="#0000ff"/><circle cx="1425.4" cy="386.9" r="6.15" fill="#0000ff"/><circle cx="1432.1" cy="435.9" r="6.15" fill="#0000ff"/><circle cx="1435.1" cy="484.9" r="6.15" fill="#0000ff"/><circle cx="1438.4" cy="533.9" r="6.15" fill="#0000ff"/><circle cx="1439.1" cy="582.9" r="6.15" fill="#0000ff"/><circle cx="1441" cy="631.9" r="6.15" fill="#0000ff"/><circle cx="1442.4" cy="680.9" r="6.15" fill="#0000ff"/><circle cx="1444.3" cy="729.9" r="6.15" fill="#0000ff"/><circle cx="1445.3" cy="778.9" r="6.15" fill="#0000ff"/>
<circle cx="1386.5" cy="19.4" r="5.85" fill="#ff0000"/><circle cx="1386.5" cy="29.2" r="5.85" fill="#ff0000"/><circle cx="1386.8" cy="39" r="5.85" fill="#ff0000"/><circle cx="1387.2" cy="48.8" r="5.85" fill="#ff0000"/><circle cx="1387.8" cy="58.6" r="5.85" fill="#ff0000"/><circle cx="1388.6" cy="68.4" r="5.85" fill="#ff0000"/><circle cx="1389.6" cy="78.2" r="5.85" fill="#ff0000"/><circle cx="1392.4" cy="92.9" r="5.85" fill="#ff0000"/><circle cx="1393.6" cy="117.4" r="5.85" fill="#ff0000"/><circle cx="1398.3" cy="141.9" r="5.85" fill="#ff0000"/><circle cx="1403.6" cy="166.4" r="5.85" fill="#ff0000"/><circle cx="1408.9" cy="190.9" r="5.85" fill="#ff0000"/><circle cx="1414.8" cy="215.4" r="5.85" fill="#ff0000"/><circle cx="1416.5" cy="239.9" r="5.85" fill="#ff0000"/><circle cx="1420" cy="264.4" r="5.85" fill="#ff0000"/><circle cx="1424.2" cy="313.4" r="5.85" fill="#ff0000"/><circle cx="1427.7" cy="362.4" r="5.85" fill="#ff0000"/><circle cx="1432.8" cy="411.4" r="5.85" fill="#ff0000"/><circle cx="1435" cy="460.4" r="5.85" fill="#ff0000"/><circle cx="1437.5" cy="509.4" r="5.85" fill="#ff0000"/><circle cx="1443.1" cy="631.9" r="5.85" fill="#ff0000"/><circle cx="1446" cy="754.4" r="5.85" fill="#ff0000"/>
<polyline fill="none" stroke="#c8860f" stroke-width="3.45" stroke-linejoin="round"  points="1393.6,19.4 1393.6,29.2 1393.6,39 1393.6,48.8 1393.6,58.6 1393.6,68.4 1393.6,78.2 1395.2,92.9 1398.3,117.4 1401.8,141.9 1408,166.4 1413.6,190.9 1420.3,215.4 1423,239.9 1426,264.4 1431,313.4 1434,362.4 1437.3,411.4 1438.9,460.4 1440,509.4 1444.1,631.9 1446.7,754.4 1449.5,999.4"/><polyline fill="none" stroke="#ffa500" stroke-width="2.15" stroke-linejoin="round"  points="1393.6,19.4 1393.6,29.2 1393.6,39 1393.6,48.8 1393.6,58.6 1393.6,68.4 1393.6,78.2 1395.2,92.9 1398.3,117.4 1401.8,141.9 1408,166.4 1413.6,190.9 1420.3,215.4 1423,239.9 1426,264.4 1431,313.4 1434,362.4 1437.3,411.4 1438.9,460.4 1440,509.4 1444.1,631.9 1446.7,754.4 1449.5,999.4"/><circle cx="1393.6" cy="19.4" r="5.7" fill="#ffa500" stroke="#c8860f" stroke-width="0.9"/><circle cx="1393.6" cy="29.2" r="5.7" fill="#ffa500" stroke="#c8860f" stroke-width="0.9"/><circle cx="1393.6" cy="39" r="5.7" fill="#ffa500" stroke="#c8860f" stroke-width="0.9"/><circle cx="1393.6" cy="48.8" r="5.7" fill="#ffa500" stroke="#c8860f" stroke-width="0.9"/><circle cx="1393.6" cy="58.6" r="5.7" fill="#ffa500" stroke="#c8860f" stroke-width="0.9"/><circle cx="1393.6" cy="68.4" r="5.7" fill="#ffa500" stroke="#c8860f" stroke-width="0.9"/><circle cx="1393.6" cy="78.2" r="5.7" fill="#ffa500" stroke="#c8860f" stroke-width="0.9"/><circle cx="1395.2" cy="92.9" r="5.7" fill="#ffa500" stroke="#c8860f" stroke-width="0.9"/><circle cx="1398.3" cy="117.4" r="5.7" fill="#ffa500" stroke="#c8860f" stroke-width="0.9"/><circle cx="1401.8" cy="141.9" r="5.7" fill="#ffa500" stroke="#c8860f" stroke-width="0.9"/><circle cx="1408" cy="166.4" r="5.7" fill="#ffa500" stroke="#c8860f" stroke-width="0.9"/><circle cx="1413.6" cy="190.9" r="5.7" fill="#ffa500" stroke="#c8860f" stroke-width="0.9"/><circle cx="1420.3" cy="215.4" r="5.7" fill="#ffa500" stroke="#c8860f" stroke-width="0.9"/><circle cx="1423" cy="239.9" r="5.7" fill="#ffa500" stroke="#c8860f" stroke-width="0.9"/><circle cx="1426" cy="264.4" r="5.7" fill="#ffa500" stroke="#c8860f" stroke-width="0.9"/><circle cx="1431" cy="313.4" r="5.7" fill="#ffa500" stroke="#c8860f" stroke-width="0.9"/><circle cx="1434" cy="362.4" r="5.7" fill="#ffa500" stroke="#c8860f" stroke-width="0.9"/><circle cx="1437.3" cy="411.4" r="5.7" fill="#ffa500" stroke="#c8860f" stroke-width="0.9"/><circle cx="1438.9" cy="460.4" r="5.7" fill="#ffa500" stroke="#c8860f" stroke-width="0.9"/><circle cx="1440" cy="509.4" r="5.7" fill="#ffa500" stroke="#c8860f" stroke-width="0.9"/><circle cx="1444.1" cy="631.9" r="5.7" fill="#ffa500" stroke="#c8860f" stroke-width="0.9"/><circle cx="1446.7" cy="754.4" r="5.7" fill="#ffa500" stroke="#c8860f" stroke-width="0.9"/>
<polyline fill="none" stroke="#008000" stroke-width="2.75" stroke-linejoin="round"  points="1397.7,19.4 1397.7,29.2 1397.7,39 1397.7,48.8 1397.7,58.6 1397.7,68.4 1397.7,78.2 1398.7,92.9 1398.9,117.4 1400.9,141.9 1402.8,166.4 1405.1,190.9 1411.8,215.4 1413.2,239.9 1416.3,264.4 1420.4,313.4 1424.2,362.4 1429,411.4 1431.7,460.4 1433.9,509.4 1438.4,631.9 1442.4,754.4 1447,999.4"/><circle cx="1397.7" cy="19.4" r="6.15" fill="#008000"/><circle cx="1397.7" cy="29.2" r="6.15" fill="#008000"/><circle cx="1397.7" cy="39" r="6.15" fill="#008000"/><circle cx="1397.7" cy="48.8" r="6.15" fill="#008000"/><circle cx="1397.7" cy="58.6" r="6.15" fill="#008000"/><circle cx="1397.7" cy="68.4" r="6.15" fill="#008000"/><circle cx="1397.7" cy="78.2" r="6.15" fill="#008000"/><circle cx="1398.7" cy="92.9" r="6.15" fill="#008000"/><circle cx="1398.9" cy="117.4" r="6.15" fill="#008000"/><circle cx="1400.9" cy="141.9" r="6.15" fill="#008000"/><circle cx="1402.8" cy="166.4" r="6.15" fill="#008000"/><circle cx="1405.1" cy="190.9" r="6.15" fill="#008000"/><circle cx="1411.8" cy="215.4" r="6.15" fill="#008000"/><circle cx="1413.2" cy="239.9" r="6.15" fill="#008000"/><circle cx="1416.3" cy="264.4" r="6.15" fill="#008000"/><circle cx="1420.4" cy="313.4" r="6.15" fill="#008000"/><circle cx="1424.2" cy="362.4" r="6.15" fill="#008000"/><circle cx="1429" cy="411.4" r="6.15" fill="#008000"/><circle cx="1431.7" cy="460.4" r="6.15" fill="#008000"/><circle cx="1433.9" cy="509.4" r="6.15" fill="#008000"/><circle cx="1438.4" cy="631.9" r="6.15" fill="#008000"/><circle cx="1442.4" cy="754.4" r="6.15" fill="#008000"/>
<polyline fill="none" stroke="#ff00ff" stroke-width="2.75" stroke-linejoin="round"  points="1402.8,21.82 1402.8,26.95 1402.8,32.37 1402.8,38.11 1402.8,44.28 1402.8,50.96 1402.8,58.26 1402.8,66.31 1402.8,75.28 1402.8,85.39 1402.8,96.87 1403.6,110.03 1403.6,125.24 1403.6,142.93 1404.5,163.68 1405.6,188.13 1407.5,217.09 1416.8,251.53 1425.6,292.64 1430.7,341.85 1433.4,400.88 1435.1,471.8 1438.4,557.07 1440.5,659.66 1443.6,783.07 1446,931.42"/><circle cx="1402.8" cy="21.82" r="6.15" fill="#ff00ff"/><circle cx="1402.8" cy="26.95" r="6.15" fill="#ff00ff"/><circle cx="1402.8" cy="32.37" r="6.15" fill="#ff00ff"/><circle cx="1402.8" cy="38.11" r="6.15" fill="#ff00ff"/><circle cx="1402.8" cy="44.28" r="6.15" fill="#ff00ff"/><circle cx="1402.8" cy="50.96" r="6.15" fill="#ff00ff"/><circle cx="1402.8" cy="58.26" r="6.15" fill="#ff00ff"/><circle cx="1402.8" cy="66.31" r="6.15" fill="#ff00ff"/><circle cx="1402.8" cy="75.28" r="6.15" fill="#ff00ff"/><circle cx="1402.8" cy="85.39" r="6.15" fill="#ff00ff"/><circle cx="1402.8" cy="96.87" r="6.15" fill="#ff00ff"/><circle cx="1403.6" cy="110.03" r="6.15" fill="#ff00ff"/><circle cx="1403.6" cy="125.24" r="6.15" fill="#ff00ff"/><circle cx="1403.6" cy="142.93" r="6.15" fill="#ff00ff"/><circle cx="1404.5" cy="163.68" r="6.15" fill="#ff00ff"/><circle cx="1405.6" cy="188.13" r="6.15" fill="#ff00ff"/><circle cx="1407.5" cy="217.09" r="6.15" fill="#ff00ff"/><circle cx="1416.8" cy="251.53" r="6.15" fill="#ff00ff"/><circle cx="1425.6" cy="292.64" r="6.15" fill="#ff00ff"/><circle cx="1430.7" cy="341.85" r="6.15" fill="#ff00ff"/><circle cx="1433.4" cy="400.88" r="6.15" fill="#ff00ff"/><circle cx="1435.1" cy="471.8" r="6.15" fill="#ff00ff"/><circle cx="1438.4" cy="557.07" r="6.15" fill="#ff00ff"/><circle cx="1440.5" cy="659.66" r="6.15" fill="#ff00ff"/><circle cx="1443.6" cy="783.07" r="6.15" fill="#ff00ff"/>
</g>
<path d="M1081.4 814.55v6.3M1147.2 814.55v6.3M1213 814.55v6.3M1278.8 814.55v6.3M1344.6 814.55v6.3M1410.4 814.55v6.3M1072.2 19.4h-6.3M1072.2 117.4h-6.3M1072.2 215.4h-6.3M1072.2 313.4h-6.3M1072.2 411.4h-6.3M1072.2 509.4h-6.3M1072.2 607.4h-6.3M1072.2 705.4h-6.3M1072.2 803.4h-6.3" stroke="#000" stroke-width="1.45" fill="none"/>
<rect x="1072.2" y="19.4" width="402.5" height="795.15" fill="none" stroke="#000" stroke-width="1.45"/>
<text transform="translate(1081.4 850.6) rotate(-45) scale(0.925 1)" font-size="18.06" text-anchor="middle" y="6.6">1000</text>
<text transform="translate(1147.2 850.6) rotate(-45) scale(0.925 1)" font-size="18.06" text-anchor="middle" y="6.6">1005</text>
<text transform="translate(1213 850.6) rotate(-45) scale(0.925 1)" font-size="18.06" text-anchor="middle" y="6.6">1010</text>
<text transform="translate(1278.8 850.6) rotate(-45) scale(0.925 1)" font-size="18.06" text-anchor="middle" y="6.6">1015</text>
<text transform="translate(1344.6 850.6) rotate(-45) scale(0.925 1)" font-size="18.06" text-anchor="middle" y="6.6">1020</text>
<text transform="translate(1410.4 850.6) rotate(-45) scale(0.925 1)" font-size="18.06" text-anchor="middle" y="6.6">1025</text>
<text transform="translate(1273.4 895.8) scale(0.984 1)" font-size="23" text-anchor="middle" font-weight="bold">Density (kg m-3)</text>
<text transform="translate(324.4 918) scale(0.96 1)" font-size="18.06" font-style="italic" xml:space="preserve" style="white-space:pre">Ocean Heat Content (kJ/cm^2) - Glider: N/A,  RTOFS: N/A,  RTOFS (Parallel): N/A,  ESPC: N/A,  CMEMS: N/A,  </text>
<text transform="translate(1524.4 36.3) scale(0.981 1)" font-size="23" font-weight="bold">Comparison Date: 2024-11-11</text>
<text transform="translate(1524.4 89.5) scale(0.981 1)" font-size="23" font-weight="bold">Glider: cp_380</text>
<text transform="translate(1524.4 116.1) scale(0.981 1)" font-size="23" font-weight="bold">Profiles: 49</text>
<text transform="translate(1524.4 142.7) scale(0.981 1)" font-size="23" font-weight="bold">First: 2024-11-11 00:27:42</text>
<text transform="translate(1524.4 169.3) scale(0.981 1)" font-size="23" font-weight="bold">Last: 2024-11-11 23:57:29</text>
<text transform="translate(1524.4 195.9) scale(0.981 1)" font-size="23" font-weight="bold">Method: Nearest-Neighbor</text>
<clipPath id="cm"><rect x="1563.7" y="273.85" width="403" height="285.75"/></clipPath>
<rect x="1563.7" y="273.85" width="403" height="285.75" fill="#97b6e1"/>
<rect x="1563.7" y="273.85" width="403" height="285.75" fill="none" stroke="#000" stroke-width="1.45"/>
<clipPath id="cm2"><rect x="1562.9" y="273.05" width="404.6" height="287.35"/></clipPath>
<g clip-path="url(#cm2)">
<polygon points="1562.7,272.85 1707.9,272.85 1707.9,273.85 1709.7,278.4 1710.8,283.8 1710.1,290.2 1709.2,295.2 1705.1,296.1 1700.6,298.4 1696,301.1 1692.4,304.8 1689.2,309.3 1686.5,313 1684.2,310.7 1679.7,310.2 1676,310.7 1672.4,309.4 1667.8,313 1663.3,316.6 1659.6,320.2 1656.5,323.9 1655.1,327.5 1654.6,332.5 1652.8,330.3 1648.7,330.7 1644.2,331.3 1639.6,333 1635.1,336.2 1631.4,340.2 1627.8,346.4 1625.1,351.8 1620.5,355.5 1616,359.1 1611.4,362.7 1606,365.9 1600.5,369.1 1595.9,374.1 1591.4,378.2 1588.7,382.8 1585.5,387.3 1583.2,392.8 1580.9,398.2 1578.7,403.7 1577.3,409.2 1576.8,414.6 1577.3,421.4 1578.7,428.6 1580.5,435.9 1583.2,443.2 1586.8,451.4 1591.4,459.6 1595.9,467.8 1597.3,472.3 1595.6,475 1595.9,480.5 1598.7,487.8 1599.6,490 1602.3,497.3 1604.6,503.6 1607.3,510.9 1608.2,517.3 1607.8,524.6 1606.9,530.9 1605.5,538.2 1604.6,544.6 1602.3,551 1598.7,557.3 1597.5,559.6 1597.5,560.6 1585,560.6 1585,559.6 1583.2,552.8 1584.1,546.4 1581.4,541.9 1576.8,537.3 1571.4,535.5 1568.6,530.9 1567.7,525.5 1565.6,520.9 1566.4,518.2 1569.2,516.5 1563.7,517.3 1562.7,517.3" fill="#d2b48c"/>
<polygon points="1704.68,284.75 1706.77,286.57 1708.59,289.3 1708.96,292.94 1705.14,294.03 1700.59,295.85 1696.04,298.21 1691.49,301.13 1689.21,303.4 1687.39,300.22 1688.76,297.03 1691.49,293.85 1695.58,292.03 1699.68,289.3 1701.95,287.02" fill="#97b6e1" stroke="#000" stroke-width="1.6" stroke-linejoin="round"/>
<polyline points="1599.6,274.3 1598.7,280.2 1604.1,284.7 1607.8,291.1 1607.8,296.6 1611.9,300.2 1611.4,305.7 1610.5,307.5 1614.1,314.8 1618.7,323.9 1620.5,329.3 1626.9,336.6 1628.7,341.2 1626.9,346.6" fill="none" stroke="#97b6e1" stroke-width="1.75" stroke-linejoin="round"/>
<polyline points="1623.2,274.3 1627.8,281.1 1632.3,287.5 1638.3,292.9 1635.1,298.4 1636,307.5 1641.4,313.9 1648.7,318.4 1653.3,320.2 1655.1,324.8" fill="none" stroke="#97b6e1" stroke-width="1.75" stroke-linejoin="round"/>
<polyline points="1563.8,293.4 1573.2,297.5 1576.8,304.8 1577.7,316.6 1582.3,323.9 1585.9,329.3 1591.4,333.9 1596.9,337.5 1600.5,342.1 1606,343.3 1609.6,351.8 1611.4,356.4 1609.6,359.6" fill="none" stroke="#97b6e1" stroke-width="1.75" stroke-linejoin="round"/>
<polyline points="1606,343.3 1613.2,343.6 1618.7,347.3 1624.2,350" fill="none" stroke="#97b6e1" stroke-width="1.75" stroke-linejoin="round"/>
<polyline points="1670.6,274.3 1675.1,277.5 1680.6,277.9" fill="none" stroke="#97b6e1" stroke-width="1.75" stroke-linejoin="round"/>
<polyline points="1563.8,386.4 1569.6,391.9 1575.5,398.2" fill="none" stroke="#97b6e1" stroke-width="1.75" stroke-linejoin="round"/>
<polyline points="1577.3,422.7 1572.3,424.1 1571.8,431.4 1574.1,437.7 1570.9,444.1 1572.7,451.4 1577.7,457.8 1579.6,462.3 1585,464.1 1588.7,470.5 1590.9,477.8 1591.9,481.9 1588.7,482.8 1584.6,478.7" fill="none" stroke="#97b6e1" stroke-width="1.75" stroke-linejoin="round"/>
<polygon points="1591.4,504.1 1595,508.2 1594.6,513.7 1591.9,516.8 1587.8,513.7 1585,510.5 1588.7,506.8" fill="#b3b3b3"/>
<circle cx="1580.5" cy="499.6" r="1.2" fill="#b3b3b3"/><circle cx="1572.5" cy="468.2" r="1.1" fill="#b3b3b3"/><circle cx="1580.5" cy="486" r="1.1" fill="#b3b3b3"/>
<polyline points="1563.8,296.1 1585,297 1588.7,298.9 1591.4,302 1591.4,306.1 1616.9,306.8 1640.5,331.6" fill="none" stroke="#000" stroke-width="1.45" stroke-linejoin="round"/>
<polyline points="1563.8,340 1568.6,346.4 1575,353.6 1577.7,362.7 1582.3,370.9 1585,377.3 1589.1,380" fill="none" stroke="#000" stroke-width="1.45" stroke-linejoin="round"/>
<polyline points="1563.8,412.3 1569.6,412.8 1576.4,414.2" fill="none" stroke="#000" stroke-width="1.45" stroke-linejoin="round"/>
<polyline points="1707.9,273.85 1709.7,278.4 1710.8,283.8 1710.1,290.2 1709.2,295.2 1705.1,296.1 1700.6,298.4 1696,301.1 1692.4,304.8 1689.2,309.3 1686.5,313 1684.2,310.7 1679.7,310.2 1676,310.7 1672.4,309.4 1667.8,313 1663.3,316.6 1659.6,320.2 1656.5,323.9 1655.1,327.5 1654.6,332.5 1652.8,330.3 1648.7,330.7 1644.2,331.3 1639.6,333 1635.1,336.2 1631.4,340.2 1627.8,346.4 1625.1,351.8 1620.5,355.5 1616,359.1 1611.4,362.7 1606,365.9 1600.5,369.1 1595.9,374.1 1591.4,378.2 1588.7,382.8 1585.5,387.3 1583.2,392.8 1580.9,398.2 1578.7,403.7 1577.3,409.2 1576.8,414.6" fill="none" stroke="#000" stroke-width="2.5" stroke-linejoin="round"/>
<polyline points="1576.8,414.6 1577.3,421.4 1578.7,428.6 1580.5,435.9 1583.2,443.2 1586.8,451.4 1591.4,459.6 1595.9,467.8 1597.3,472.3" fill="none" stroke="#000" stroke-width="1.9" stroke-linejoin="round"/>
<polyline points="1597.3,472.3 1595.6,475 1595.9,480.5 1598.7,487.8 1599.6,490 1602.3,497.3 1604.6,503.6 1607.3,510.9 1608.2,517.3 1607.8,524.6 1606.9,530.9 1605.5,538.2 1604.6,544.6 1602.3,551 1598.7,557.3 1597.5,559.6" fill="none" stroke="#000" stroke-width="2.5" stroke-linejoin="round"/>
<polyline points="1585,559.6 1583.2,552.8 1584.1,546.4 1581.4,541.9 1576.8,537.3 1571.4,535.5 1568.6,530.9 1567.7,525.5 1565.6,520.9 1566.4,518.2 1569.2,516.5" fill="none" stroke="#000" stroke-width="2.5" stroke-linejoin="round"/>
<polyline points="1681.48,275.47 1707.87,275.47" fill="none" stroke="#000" stroke-width="3.2" stroke-linejoin="round" stroke-linecap="round"/>
<polyline points="1697.4,275.65 1697.86,283.38" fill="none" stroke="#000" stroke-width="3.4" stroke-linejoin="round" stroke-linecap="round"/>
<polyline points="1702.86,278.38 1703.13,284.29" fill="none" stroke="#000" stroke-width="2.2" stroke-linejoin="round" stroke-linecap="round"/>
<polyline points="1704.23,274.74 1708.78,277.47" fill="none" stroke="#000" stroke-width="2" stroke-linejoin="round" stroke-linecap="round"/>
<polyline points="1676.47,288.57 1682.39,289.12 1686.03,287.48 1689.67,289.3 1694.22,290.94 1698.31,289.75 1700.59,288.39" fill="none" stroke="#000" stroke-width="4" stroke-linejoin="round" stroke-linecap="round"/>
<polyline points="1686.03,287.93 1687.39,287.02" fill="none" stroke="#000" stroke-width="4.6" stroke-linejoin="round" stroke-linecap="round"/>
<polyline points="1686.03,289.75 1684.66,293.39 1684.21,296.58 1686.94,298.4" fill="none" stroke="#000" stroke-width="3.4" stroke-linejoin="round" stroke-linecap="round"/>
<polyline points="1694.22,290.94 1691.49,292.48 1688.76,295.67" fill="none" stroke="#000" stroke-width="2.2" stroke-linejoin="round" stroke-linecap="round"/>
<polyline points="1676.47,300.22 1680.57,302.76 1686.03,301.31 1689.21,302.04" fill="none" stroke="#000" stroke-width="3.8" stroke-linejoin="round" stroke-linecap="round"/>
<polyline points="1686.94,298.4 1689.67,300.22 1689.21,302.04" fill="none" stroke="#000" stroke-width="2.6" stroke-linejoin="round" stroke-linecap="round"/>
<polyline points="1672.38,308.86 1676.02,310.41 1682.39,310.04 1686.03,312.23" fill="none" stroke="#000" stroke-width="3" stroke-linejoin="round" stroke-linecap="round"/>
<polyline points="1686.03,312.23 1689.67,307.04 1692.4,304.31" fill="none" stroke="#000" stroke-width="3.2" stroke-linejoin="round" stroke-linecap="round"/>
<polyline points="1682.39,307.5 1688.76,304.77" fill="none" stroke="#000" stroke-width="2.4" stroke-linejoin="round" stroke-linecap="round"/>
<polyline points="1606,365.9 1600.5,369.1 1595.9,374.1 1591.4,378.2" fill="none" stroke="#000" stroke-width="3.2" stroke-linejoin="round" stroke-linecap="round"/>
<polyline points="1590.3,369 1591.5,374.5" fill="none" stroke="#000" stroke-width="2.6" stroke-linejoin="round" stroke-linecap="round"/>
<polyline points="1588.7,382.8 1585.5,387.3 1583.2,392.8 1580.9,398.2 1578.7,403.7 1577.3,409.2" fill="none" stroke="#000" stroke-width="3.6" stroke-linejoin="round" stroke-linecap="round"/>
<polyline points="1573.8,401.5 1576.5,406" fill="none" stroke="#000" stroke-width="2.2" stroke-linejoin="round" stroke-linecap="round"/>
<polyline points="1625.1,351.8 1620.5,355.5 1616,359.1 1611.4,362.7" fill="none" stroke="#000" stroke-width="2.4" stroke-linejoin="round" stroke-linecap="round"/>
<polyline points="1625.5,346 1626.3,349.5" fill="none" stroke="#000" stroke-width="2.6" stroke-linejoin="round" stroke-linecap="round"/>
<polyline points="1591.5,468.5 1595.5,474.5" fill="none" stroke="#000" stroke-width="3.2" stroke-linejoin="round" stroke-linecap="round"/>
<polyline points="1595.6,475 1595.9,480.5 1598.7,487.8 1602.3,497.3" fill="none" stroke="#000" stroke-width="2.2" stroke-linejoin="round" stroke-linecap="round"/>
<polyline points="1602.3,551 1598.7,556.5 1592,558.2 1586,556.5 1584,551.5" fill="none" stroke="#000" stroke-width="4.4" stroke-linejoin="round" stroke-linecap="round"/>
<polyline points="1604.6,544.6 1602.3,551" fill="none" stroke="#000" stroke-width="2.6" stroke-linejoin="round" stroke-linecap="round"/>
<polyline points="1581.4,541.9 1576.8,537.3 1571.4,535.5" fill="none" stroke="#000" stroke-width="2.4" stroke-linejoin="round" stroke-linecap="round"/>
<polyline points="1606,365.9 1604.12,365.84 1603.25,367.5 1600.73,366.32 1600.5,369.1 1598.44,369.05 1598.66,371.1 1595.87,370.38 1596.82,373.1 1594.05,372.23 1594.78,375.12 1593.46,375.95 1592.53,377.18 1591.36,378.16 1590.73,379.35 1587.02,378.72 1589.38,381.65 1587.79,382.21 1587.9,383.93 1586.3,384.48 1586.3,386.18 1581.84,385.28 1584.92,388.68 1582.53,389.29 1583.78,391.43 1579.96,391.43 1582.62,394.15 1580.21,394.72 1581.48,396.85 1578.42,397.18 1580.35,399.57 1579.21,400.72 1579.25,402.32 1576.17,402.87 1578.35,405.07 1574.47,405.55 1577.65,407.82 1575.17,408.66" fill="none" stroke="#000" stroke-width="1.5" stroke-linejoin="round" stroke-linecap="round"/>
<polyline points="1631.4,340.2 1629.39,340.69 1629.96,342.68 1627.7,343.03 1628.52,345.16 1626.12,345.5 1627.12,347.75 1624.43,348.09 1625.77,350.45 1623.71,350.69 1623.95,352.73 1621.41,351.93 1621.65,354.57 1620.46,355.45 1619.38,356.4 1617.55,356.43 1617.12,358.2 1614.6,357.32 1614.85,360 1612.74,359.67 1612.55,361.8 1610.18,360.91 1610.05,363.5 1608.56,364.07 1607.35,365.1 1605.43,364.93" fill="none" stroke="#000" stroke-width="1.3" stroke-linejoin="round" stroke-linecap="round"/>
<polyline points="1672.4,309.4 1670.93,309.89 1670.1,311.2 1668.8,311.91 1667.8,313 1666.02,313.09 1665.55,314.8 1664.35,315.61 1663.3,316.6 1661.47,317.19 1660.83,319 1659.17,319.8 1658.57,321.43 1657.46,322.61 1656.5,323.9" fill="none" stroke="#000" stroke-width="1.2" stroke-linejoin="round" stroke-linecap="round"/>
<polyline points="1604.6,544.6 1603.01,545.47 1603.68,547.16 1602.31,548.11 1602.76,549.72 1601.98,550.84 1601.58,552.1 1598.97,551.97 1600.14,554.3 1599.41,555.39 1598.7,556.5 1597.04,555.57 1596.02,557.18 1594.11,555.26 1593.34,557.86 1592.01,557.99 1590.5,557.78 1589.39,555.96 1587.5,556.92 1587.03,555.27 1585.5,555.25 1585.1,553.96 1584.5,552.75 1584.97,551.35 1584.03,549.8 1585.9,548.14 1584.1,546.4 1584.43,544.67 1582.75,544.15 1583.69,542.06 1581.4,541.9 1580.77,540.69 1579.56,540.06 1579.08,538.7 1577.72,538.22 1576.95,537.05 1575.45,536.85 1574.52,535.15 1572.75,535.95 1572.88,533.61 1570.7,534.35 1571.31,532.4 1569.3,532.05 1570.32,529.85" fill="none" stroke="#000" stroke-width="1.4" stroke-linejoin="round" stroke-linecap="round"/>
<polyline points="1644.2,501.8 1649.6,505 1655.1,507.3" fill="none" stroke="#000" stroke-width="1.8" stroke-linejoin="round" stroke-linecap="round"/>
<polyline points="1655.1,507.3 1660.5,508.7 1666,510.9 1670.6,514.6 1674.2,518.2 1676.5,521.8 1674.2,526.4 1671.9,530 1670.6,533.7 1671,537.3" fill="none" stroke="#000" stroke-width="3.8" stroke-linejoin="round" stroke-linecap="round"/>
<polyline points="1655.1,510.9 1656,516.4 1657.8,520" fill="none" stroke="#000" stroke-width="2.6" stroke-linejoin="round" stroke-linecap="round"/>
<polyline points="1669,517 1671.5,521.5 1670,526" fill="none" stroke="#000" stroke-width="3" stroke-linejoin="round" stroke-linecap="round"/>
<polyline points="1657,509.5 1663,511.5" fill="none" stroke="#000" stroke-width="3.4" stroke-linejoin="round" stroke-linecap="round"/>
<polyline points="1648.4,508.2 1649,510" fill="none" stroke="#000" stroke-width="2" stroke-linejoin="round" stroke-linecap="round"/>
<polyline points="1663.3,527.3 1663.4,527.5" fill="none" stroke="#000" stroke-width="2.6" stroke-linejoin="round" stroke-linecap="round"/>
<polyline points="1663.7,531.4 1663.8,531.6" fill="none" stroke="#000" stroke-width="2.2" stroke-linejoin="round" stroke-linecap="round"/>
<polyline points="1630.5,515 1634.2,519.1 1637.3,521.4 1640.5,519.1 1640.1,513.7 1642.8,517.3 1646.9,515.9 1651.5,516.8 1655.1,516.4" fill="none" stroke="#000" stroke-width="3.2" stroke-linejoin="round" stroke-linecap="round"/>
<polyline points="1625.5,539.6 1624.6,543.7" fill="none" stroke="#000" stroke-width="3" stroke-linejoin="round" stroke-linecap="round"/>
<polyline points="1626.5,548.2 1626.6,548.4" fill="none" stroke="#000" stroke-width="1.5" stroke-linejoin="round" stroke-linecap="round"/>
<polyline points="1627.6,552 1627.7,552.3" fill="none" stroke="#000" stroke-width="1.5" stroke-linejoin="round" stroke-linecap="round"/>
<polyline points="1655.1,537.8 1658.7,541.9 1659.6,545.5 1656.9,548.2 1654.6,547.3" fill="none" stroke="#000" stroke-width="2.8" stroke-linejoin="round" stroke-linecap="round"/>
<polyline points="1650.1,550.5 1648.7,554.1 1650.5,556.9 1652.8,559.6" fill="none" stroke="#000" stroke-width="3.2" stroke-linejoin="round" stroke-linecap="round"/>
<polyline points="1651.5,552.5 1654.2,556.5 1654.6,559.6" fill="none" stroke="#000" stroke-width="2.6" stroke-linejoin="round" stroke-linecap="round"/>
<polyline points="1663.3,558.2 1667.8,556.4 1673.3,555.1" fill="none" stroke="#000" stroke-width="2.8" stroke-linejoin="round" stroke-linecap="round"/>
<polyline points="1673.3,555.1 1676.9,551.9 1679.7,546.4" fill="none" stroke="#000" stroke-width="1.6" stroke-linejoin="round" stroke-linecap="round"/>
<polyline points="1679.7,546.4 1681.9,544.6 1685.1,546.9 1689.7,550.5 1693.3,553.7 1696,556 1695.1,558.7" fill="none" stroke="#000" stroke-width="2.8" stroke-linejoin="round" stroke-linecap="round"/>
<polyline points="1946.4,373.9 1948.5,373.2 1951,371.8" fill="none" stroke="#000" stroke-width="3.6" stroke-linejoin="round" stroke-linecap="round"/>
</g>
<g clip-path="url(#cm)"><circle cx="1725.05" cy="276.0" r="4.2" fill="#ff0000" stroke="#000" stroke-width="1.6"/></g>
<path d="M1716 273.85H1734" stroke="#000" stroke-width="1.45"/>
<path d="M1587.3 273.85v-8.6M1587.3 559.6v8.6M1654.14 273.85v-8.6M1654.14 559.6v8.6M1720.98 273.85v-8.6M1720.98 559.6v8.6M1787.82 273.85v-8.6M1787.82 559.6v8.6M1854.66 273.85v-8.6M1854.66 559.6v8.6M1921.5 273.85v-8.6M1921.5 559.6v8.6M1563.7 509.45h-8.6M1966.7 509.45h8.6M1563.7 433.38h-8.6M1966.7 433.38h8.6M1563.7 354.97h-8.6M1966.7 354.97h8.6M1563.7 273.85h-8.6M1966.7 273.85h8.6" stroke="#000" stroke-width="2.9" fill="none"/>
<path d="M1565.02 273.85v-3.2M1565.02 559.6v3.2M1609.58 273.85v-3.2M1609.58 559.6v3.2M1631.86 273.85v-3.2M1631.86 559.6v3.2M1676.42 273.85v-3.2M1676.42 559.6v3.2M1698.7 273.85v-3.2M1698.7 559.6v3.2M1743.26 273.85v-3.2M1743.26 559.6v3.2M1765.54 273.85v-3.2M1765.54 559.6v3.2M1810.1 273.85v-3.2M1810.1 559.6v3.2M1832.38 273.85v-3.2M1832.38 559.6v3.2M1876.94 273.85v-3.2M1876.94 559.6v3.2M1899.22 273.85v-3.2M1899.22 559.6v3.2M1943.78 273.85v-3.2M1943.78 559.6v3.2M1966.06 273.85v-3.2M1966.06 559.6v3.2M1563.7 534.35h-3.2M1966.7 534.35h3.2M1563.7 484.33h-3.2M1966.7 484.33h3.2M1563.7 458.98h-3.2M1966.7 458.98h3.2M1563.7 407.52h-3.2M1966.7 407.52h3.2M1563.7 381.39h-3.2M1966.7 381.39h3.2M1563.7 328.25h-3.2M1966.7 328.25h3.2M1563.7 301.22h-3.2M1966.7 301.22h3.2" stroke="#000" stroke-width="1.8" fill="none"/>
<text transform="translate(1547.5 282.15) scale(0.975 1)" font-size="22.9" text-anchor="end">36°N</text>
<text transform="translate(1547.5 363.27) scale(0.975 1)" font-size="22.9" text-anchor="end">33°N</text>
<text transform="translate(1547.5 441.68) scale(0.975 1)" font-size="22.9" text-anchor="end">30°N</text>
<text transform="translate(1547.5 517.75) scale(0.975 1)" font-size="22.9" text-anchor="end">27°N</text>
<text transform="translate(1586.1 605) rotate(-45) scale(0.975 1)" font-size="22.9" text-anchor="middle" y="8.3">81°W</text>
<text transform="translate(1652.94 605) rotate(-45) scale(0.975 1)" font-size="22.9" text-anchor="middle" y="8.3">78°W</text>
<text transform="translate(1719.78 605) rotate(-45) scale(0.975 1)" font-size="22.9" text-anchor="middle" y="8.3">75°W</text>
<text transform="translate(1786.62 605) rotate(-45) scale(0.975 1)" font-size="22.9" text-anchor="middle" y="8.3">72°W</text>
<text transform="translate(1853.46 605) rotate(-45) scale(0.975 1)" font-size="22.9" text-anchor="middle" y="8.3">69°W</text>
<text transform="translate(1920.3 605) rotate(-45) scale(0.975 1)" font-size="22.9" text-anchor="middle" y="8.3">66°W</text>
<rect x="1634.9" y="636" width="261" height="178.8" rx="4.2" ry="4.2" fill="#fff" fill-opacity="0.8" stroke="#cccccc" stroke-width="1.8"/>
<path d="M1643 655.3H1690.7" stroke="#0000ff" stroke-width="2.75"/>
<circle cx="1666.8" cy="655.3" r="6.15" fill="#0000ff"/>
<text transform="translate(1707 663.9) scale(0.985 1)" font-size="22.9">cp_380</text>
<path d="M1643 690.2H1690.7" stroke="#ff0000" stroke-width="2.75"/>
<circle cx="1666.8" cy="690.2" r="6.15" fill="#ff0000"/>
<text transform="translate(1707 698.8) scale(0.985 1)" font-size="22.9">RTOFS</text>
<path d="M1643 724.3H1690.7" stroke="#ffa500" stroke-width="2.75"/>
<circle cx="1666.8" cy="724.3" r="6.15" fill="#ffa500"/>
<text transform="translate(1707 732.9) scale(0.985 1)" font-size="22.9">RTOFS (Parallel)</text>
<path d="M1643 758.3H1690.7" stroke="#008000" stroke-width="2.75"/>
<circle cx="1666.8" cy="758.3" r="6.15" fill="#008000"/>
<text transform="translate(1707 766.9) scale(0.985 1)" font-size="22.9">ESPC</text>
<path d="M1643 793.2H1690.7" stroke="#ff00ff" stroke-width="2.75"/>
<circle cx="1666.8" cy="793.2" r="6.15" fill="#ff00ff"/>
<text transform="translate(1707 801.8) scale(0.985 1)" font-size="22.9">CMEMS</text>
</svg></body></html>
